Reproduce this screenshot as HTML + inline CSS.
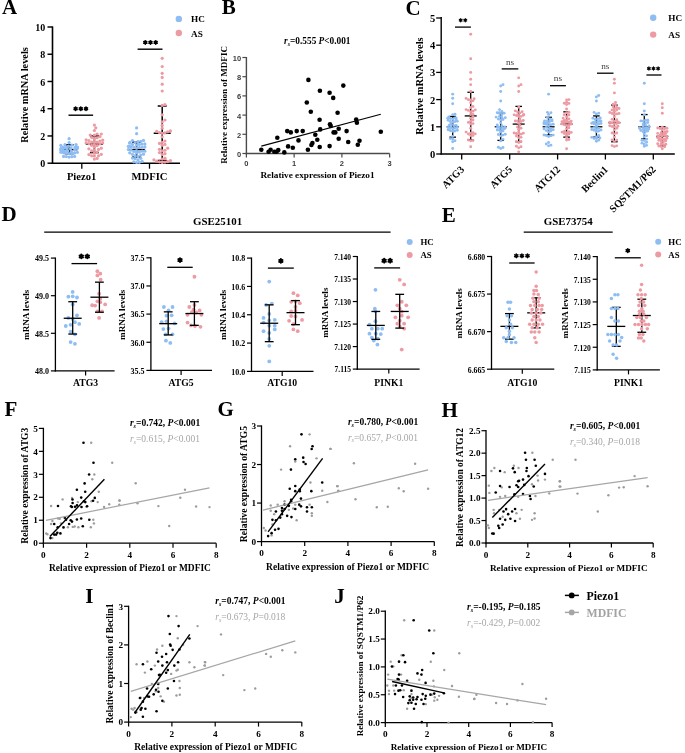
<!DOCTYPE html><html><head><meta charset="utf-8"><style>html,body{margin:0;padding:0;background:#fff;overflow:hidden}svg text{filter:grayscale(1)}</style></head><body><svg width="685" height="753" viewBox="0 0 685 753" style="font-family:'Liberation Serif',serif;display:block">
<rect width="685" height="753" fill="#fff"/>
<text x="2.00" y="14.40" font-size="21" text-anchor="start" font-weight="bold" fill="#000">A</text>
<line x1="52.50" y1="26.40" x2="52.50" y2="163.90" stroke="#000" stroke-width="1.6" stroke-linecap="butt"/>
<line x1="51.80" y1="163.20" x2="180.00" y2="163.20" stroke="#000" stroke-width="1.6" stroke-linecap="butt"/>
<line x1="47.50" y1="163.20" x2="52.50" y2="163.20" stroke="#000" stroke-width="1.45" stroke-linecap="butt"/>
<text x="45.30" y="167.40" font-size="10" text-anchor="end" font-weight="bold" fill="#000">0</text>
<line x1="47.50" y1="135.96" x2="52.50" y2="135.96" stroke="#000" stroke-width="1.45" stroke-linecap="butt"/>
<text x="45.30" y="140.16" font-size="10" text-anchor="end" font-weight="bold" fill="#000">2</text>
<line x1="47.50" y1="108.72" x2="52.50" y2="108.72" stroke="#000" stroke-width="1.45" stroke-linecap="butt"/>
<text x="45.30" y="112.92" font-size="10" text-anchor="end" font-weight="bold" fill="#000">4</text>
<line x1="47.50" y1="81.48" x2="52.50" y2="81.48" stroke="#000" stroke-width="1.45" stroke-linecap="butt"/>
<text x="45.30" y="85.68" font-size="10" text-anchor="end" font-weight="bold" fill="#000">6</text>
<line x1="47.50" y1="54.24" x2="52.50" y2="54.24" stroke="#000" stroke-width="1.45" stroke-linecap="butt"/>
<text x="45.30" y="58.44" font-size="10" text-anchor="end" font-weight="bold" fill="#000">8</text>
<line x1="47.50" y1="27.00" x2="52.50" y2="27.00" stroke="#000" stroke-width="1.45" stroke-linecap="butt"/>
<text x="45.30" y="31.20" font-size="10" text-anchor="end" font-weight="bold" fill="#000">10</text>
<line x1="81.80" y1="163.20" x2="81.80" y2="168.70" stroke="#000" stroke-width="1.3" stroke-linecap="butt"/>
<line x1="149.50" y1="163.20" x2="149.50" y2="168.70" stroke="#000" stroke-width="1.3" stroke-linecap="butt"/>
<text x="81.60" y="179.90" font-size="10.6" text-anchor="middle" font-weight="bold" fill="#000">Piezo1</text>
<text x="149.50" y="179.90" font-size="10.6" text-anchor="middle" font-weight="bold" fill="#000">MDFIC</text>
<text x="28.30" y="95.00" font-size="10.3" text-anchor="middle" font-weight="bold" fill="#000" transform="rotate(-90 28.3 95)">Relative mRNA levels</text>
<circle cx="178.80" cy="18.90" r="3.2" fill="#8dbdf3"/>
<circle cx="178.80" cy="33.00" r="3.2" fill="#ee9aa2"/>
<text x="191.00" y="22.40" font-size="9.2" text-anchor="start" font-weight="bold" fill="#000">HC</text>
<text x="191.00" y="36.50" font-size="9.2" text-anchor="start" font-weight="bold" fill="#000">AS</text>
<line x1="60.60" y1="149.58" x2="77.60" y2="149.58" stroke="#000" stroke-width="1.5" stroke-linecap="butt"/>
<line x1="69.10" y1="153.67" x2="69.10" y2="144.81" stroke="#000" stroke-width="1.5" stroke-linecap="butt"/>
<line x1="64.60" y1="153.67" x2="73.60" y2="153.67" stroke="#000" stroke-width="1.5" stroke-linecap="butt"/>
<line x1="64.60" y1="144.81" x2="73.60" y2="144.81" stroke="#000" stroke-width="1.5" stroke-linecap="butt"/>
<line x1="85.90" y1="144.13" x2="102.90" y2="144.13" stroke="#000" stroke-width="1.5" stroke-linecap="butt"/>
<line x1="94.40" y1="152.58" x2="94.40" y2="135.96" stroke="#000" stroke-width="1.5" stroke-linecap="butt"/>
<line x1="89.90" y1="152.58" x2="98.90" y2="152.58" stroke="#000" stroke-width="1.5" stroke-linecap="butt"/>
<line x1="89.90" y1="135.96" x2="98.90" y2="135.96" stroke="#000" stroke-width="1.5" stroke-linecap="butt"/>
<line x1="128.10" y1="149.58" x2="145.10" y2="149.58" stroke="#000" stroke-width="1.5" stroke-linecap="butt"/>
<line x1="136.60" y1="157.07" x2="136.60" y2="142.09" stroke="#000" stroke-width="1.5" stroke-linecap="butt"/>
<line x1="132.10" y1="157.07" x2="141.10" y2="157.07" stroke="#000" stroke-width="1.5" stroke-linecap="butt"/>
<line x1="132.10" y1="142.09" x2="141.10" y2="142.09" stroke="#000" stroke-width="1.5" stroke-linecap="butt"/>
<line x1="153.70" y1="133.24" x2="170.70" y2="133.24" stroke="#000" stroke-width="1.5" stroke-linecap="butt"/>
<line x1="162.20" y1="160.48" x2="162.20" y2="106.00" stroke="#000" stroke-width="1.5" stroke-linecap="butt"/>
<line x1="157.70" y1="160.48" x2="166.70" y2="160.48" stroke="#000" stroke-width="1.5" stroke-linecap="butt"/>
<line x1="157.70" y1="106.00" x2="166.70" y2="106.00" stroke="#000" stroke-width="1.5" stroke-linecap="butt"/>
<circle cx="69.10" cy="157.07" r="1.6" fill="#8dbdf3"/>
<circle cx="71.86" cy="156.71" r="1.6" fill="#8dbdf3"/>
<circle cx="66.34" cy="156.49" r="1.6" fill="#8dbdf3"/>
<circle cx="74.62" cy="156.39" r="1.6" fill="#8dbdf3"/>
<circle cx="63.58" cy="156.39" r="1.6" fill="#8dbdf3"/>
<circle cx="69.10" cy="153.49" r="1.6" fill="#8dbdf3"/>
<circle cx="71.86" cy="153.38" r="1.6" fill="#8dbdf3"/>
<circle cx="66.34" cy="153.21" r="1.6" fill="#8dbdf3"/>
<circle cx="74.62" cy="152.88" r="1.6" fill="#8dbdf3"/>
<circle cx="63.58" cy="152.60" r="1.6" fill="#8dbdf3"/>
<circle cx="77.38" cy="152.28" r="1.6" fill="#8dbdf3"/>
<circle cx="60.82" cy="152.20" r="1.6" fill="#8dbdf3"/>
<circle cx="62.36" cy="152.11" r="1.6" fill="#8dbdf3"/>
<circle cx="71.38" cy="151.71" r="1.6" fill="#8dbdf3"/>
<circle cx="61.66" cy="151.49" r="1.6" fill="#8dbdf3"/>
<circle cx="61.74" cy="151.41" r="1.6" fill="#8dbdf3"/>
<circle cx="64.15" cy="150.99" r="1.6" fill="#8dbdf3"/>
<circle cx="63.36" cy="150.87" r="1.6" fill="#8dbdf3"/>
<circle cx="67.72" cy="150.63" r="1.6" fill="#8dbdf3"/>
<circle cx="66.38" cy="150.50" r="1.6" fill="#8dbdf3"/>
<circle cx="61.49" cy="150.45" r="1.6" fill="#8dbdf3"/>
<circle cx="74.62" cy="150.01" r="1.6" fill="#8dbdf3"/>
<circle cx="60.60" cy="149.77" r="1.6" fill="#8dbdf3"/>
<circle cx="70.48" cy="148.82" r="1.6" fill="#8dbdf3"/>
<circle cx="77.38" cy="148.58" r="1.6" fill="#8dbdf3"/>
<circle cx="63.17" cy="148.56" r="1.6" fill="#8dbdf3"/>
<circle cx="62.32" cy="148.56" r="1.6" fill="#8dbdf3"/>
<circle cx="66.78" cy="148.33" r="1.6" fill="#8dbdf3"/>
<circle cx="61.03" cy="148.32" r="1.6" fill="#8dbdf3"/>
<circle cx="75.46" cy="147.97" r="1.6" fill="#8dbdf3"/>
<circle cx="71.04" cy="147.97" r="1.6" fill="#8dbdf3"/>
<circle cx="63.13" cy="147.85" r="1.6" fill="#8dbdf3"/>
<circle cx="64.89" cy="147.54" r="1.6" fill="#8dbdf3"/>
<circle cx="66.51" cy="147.51" r="1.6" fill="#8dbdf3"/>
<circle cx="66.79" cy="147.49" r="1.6" fill="#8dbdf3"/>
<circle cx="62.69" cy="147.45" r="1.6" fill="#8dbdf3"/>
<circle cx="75.03" cy="147.31" r="1.6" fill="#8dbdf3"/>
<circle cx="77.48" cy="147.00" r="1.6" fill="#8dbdf3"/>
<circle cx="68.52" cy="146.09" r="1.6" fill="#8dbdf3"/>
<circle cx="60.82" cy="145.34" r="1.6" fill="#8dbdf3"/>
<circle cx="71.86" cy="145.04" r="1.6" fill="#8dbdf3"/>
<circle cx="64.96" cy="144.69" r="1.6" fill="#8dbdf3"/>
<circle cx="76.00" cy="144.59" r="1.6" fill="#8dbdf3"/>
<circle cx="69.10" cy="142.56" r="1.6" fill="#8dbdf3"/>
<circle cx="69.10" cy="138.68" r="1.6" fill="#8dbdf3"/>
<circle cx="94.40" cy="159.05" r="1.6" fill="#ee9aa2"/>
<circle cx="97.16" cy="158.43" r="1.6" fill="#ee9aa2"/>
<circle cx="94.40" cy="155.97" r="1.6" fill="#ee9aa2"/>
<circle cx="91.64" cy="155.78" r="1.6" fill="#ee9aa2"/>
<circle cx="98.54" cy="155.73" r="1.6" fill="#ee9aa2"/>
<circle cx="88.88" cy="154.55" r="1.6" fill="#ee9aa2"/>
<circle cx="101.30" cy="154.29" r="1.6" fill="#ee9aa2"/>
<circle cx="94.40" cy="153.20" r="1.6" fill="#ee9aa2"/>
<circle cx="97.16" cy="152.06" r="1.6" fill="#ee9aa2"/>
<circle cx="91.64" cy="150.94" r="1.6" fill="#ee9aa2"/>
<circle cx="94.40" cy="150.33" r="1.6" fill="#ee9aa2"/>
<circle cx="98.54" cy="149.40" r="1.6" fill="#ee9aa2"/>
<circle cx="88.88" cy="148.79" r="1.6" fill="#ee9aa2"/>
<circle cx="101.30" cy="148.20" r="1.6" fill="#ee9aa2"/>
<circle cx="94.40" cy="147.22" r="1.6" fill="#ee9aa2"/>
<circle cx="97.16" cy="145.61" r="1.6" fill="#ee9aa2"/>
<circle cx="91.64" cy="145.28" r="1.6" fill="#ee9aa2"/>
<circle cx="94.40" cy="144.45" r="1.6" fill="#ee9aa2"/>
<circle cx="99.92" cy="143.92" r="1.6" fill="#ee9aa2"/>
<circle cx="88.88" cy="143.64" r="1.6" fill="#ee9aa2"/>
<circle cx="102.68" cy="143.02" r="1.6" fill="#ee9aa2"/>
<circle cx="86.12" cy="142.97" r="1.6" fill="#ee9aa2"/>
<circle cx="97.16" cy="142.14" r="1.6" fill="#ee9aa2"/>
<circle cx="91.64" cy="142.10" r="1.6" fill="#ee9aa2"/>
<circle cx="94.40" cy="141.62" r="1.6" fill="#ee9aa2"/>
<circle cx="99.92" cy="141.09" r="1.6" fill="#ee9aa2"/>
<circle cx="88.88" cy="140.48" r="1.6" fill="#ee9aa2"/>
<circle cx="102.68" cy="140.20" r="1.6" fill="#ee9aa2"/>
<circle cx="86.12" cy="139.80" r="1.6" fill="#ee9aa2"/>
<circle cx="94.40" cy="138.61" r="1.6" fill="#ee9aa2"/>
<circle cx="97.16" cy="137.73" r="1.6" fill="#ee9aa2"/>
<circle cx="91.64" cy="137.49" r="1.6" fill="#ee9aa2"/>
<circle cx="99.92" cy="136.56" r="1.6" fill="#ee9aa2"/>
<circle cx="94.40" cy="135.16" r="1.6" fill="#ee9aa2"/>
<circle cx="90.26" cy="135.03" r="1.6" fill="#ee9aa2"/>
<circle cx="97.16" cy="134.02" r="1.6" fill="#ee9aa2"/>
<circle cx="101.30" cy="134.00" r="1.6" fill="#ee9aa2"/>
<circle cx="94.40" cy="130.51" r="1.6" fill="#ee9aa2"/>
<circle cx="95.78" cy="127.79" r="1.6" fill="#ee9aa2"/>
<circle cx="94.40" cy="125.06" r="1.6" fill="#ee9aa2"/>
<circle cx="136.60" cy="162.52" r="1.6" fill="#8dbdf3"/>
<circle cx="139.36" cy="162.36" r="1.6" fill="#8dbdf3"/>
<circle cx="133.84" cy="161.84" r="1.6" fill="#8dbdf3"/>
<circle cx="142.12" cy="161.36" r="1.6" fill="#8dbdf3"/>
<circle cx="137.98" cy="159.87" r="1.6" fill="#8dbdf3"/>
<circle cx="135.22" cy="158.72" r="1.6" fill="#8dbdf3"/>
<circle cx="140.74" cy="158.30" r="1.6" fill="#8dbdf3"/>
<circle cx="132.46" cy="158.03" r="1.6" fill="#8dbdf3"/>
<circle cx="137.98" cy="156.56" r="1.6" fill="#8dbdf3"/>
<circle cx="135.22" cy="155.66" r="1.6" fill="#8dbdf3"/>
<circle cx="140.74" cy="155.08" r="1.6" fill="#8dbdf3"/>
<circle cx="132.46" cy="154.32" r="1.6" fill="#8dbdf3"/>
<circle cx="143.50" cy="154.14" r="1.6" fill="#8dbdf3"/>
<circle cx="136.60" cy="152.99" r="1.6" fill="#8dbdf3"/>
<circle cx="129.70" cy="152.80" r="1.6" fill="#8dbdf3"/>
<circle cx="139.36" cy="152.09" r="1.6" fill="#8dbdf3"/>
<circle cx="133.84" cy="151.39" r="1.6" fill="#8dbdf3"/>
<circle cx="142.12" cy="151.18" r="1.6" fill="#8dbdf3"/>
<circle cx="144.88" cy="151.17" r="1.6" fill="#8dbdf3"/>
<circle cx="136.33" cy="151.09" r="1.6" fill="#8dbdf3"/>
<circle cx="131.08" cy="150.10" r="1.6" fill="#8dbdf3"/>
<circle cx="128.32" cy="149.52" r="1.6" fill="#8dbdf3"/>
<circle cx="136.60" cy="148.27" r="1.6" fill="#8dbdf3"/>
<circle cx="139.36" cy="147.60" r="1.6" fill="#8dbdf3"/>
<circle cx="133.84" cy="147.08" r="1.6" fill="#8dbdf3"/>
<circle cx="142.12" cy="147.01" r="1.6" fill="#8dbdf3"/>
<circle cx="131.08" cy="146.90" r="1.6" fill="#8dbdf3"/>
<circle cx="144.88" cy="146.88" r="1.6" fill="#8dbdf3"/>
<circle cx="128.32" cy="146.47" r="1.6" fill="#8dbdf3"/>
<circle cx="129.56" cy="146.28" r="1.6" fill="#8dbdf3"/>
<circle cx="136.60" cy="145.10" r="1.6" fill="#8dbdf3"/>
<circle cx="139.36" cy="144.46" r="1.6" fill="#8dbdf3"/>
<circle cx="132.46" cy="144.41" r="1.6" fill="#8dbdf3"/>
<circle cx="142.12" cy="144.01" r="1.6" fill="#8dbdf3"/>
<circle cx="144.88" cy="143.88" r="1.6" fill="#8dbdf3"/>
<circle cx="129.70" cy="143.24" r="1.6" fill="#8dbdf3"/>
<circle cx="135.22" cy="142.53" r="1.6" fill="#8dbdf3"/>
<circle cx="129.84" cy="142.41" r="1.6" fill="#8dbdf3"/>
<circle cx="137.98" cy="141.65" r="1.6" fill="#8dbdf3"/>
<circle cx="140.74" cy="141.28" r="1.6" fill="#8dbdf3"/>
<circle cx="132.46" cy="140.49" r="1.6" fill="#8dbdf3"/>
<circle cx="143.50" cy="140.39" r="1.6" fill="#8dbdf3"/>
<circle cx="136.60" cy="133.64" r="1.6" fill="#8dbdf3"/>
<circle cx="136.60" cy="127.92" r="1.6" fill="#8dbdf3"/>
<circle cx="162.20" cy="162.52" r="1.6" fill="#ee9aa2"/>
<circle cx="164.96" cy="162.11" r="1.6" fill="#ee9aa2"/>
<circle cx="159.44" cy="161.84" r="1.6" fill="#ee9aa2"/>
<circle cx="167.72" cy="161.57" r="1.6" fill="#ee9aa2"/>
<circle cx="156.68" cy="161.16" r="1.6" fill="#ee9aa2"/>
<circle cx="170.48" cy="160.48" r="1.6" fill="#ee9aa2"/>
<circle cx="153.92" cy="159.79" r="1.6" fill="#ee9aa2"/>
<circle cx="162.20" cy="159.11" r="1.6" fill="#ee9aa2"/>
<circle cx="164.96" cy="158.16" r="1.6" fill="#ee9aa2"/>
<circle cx="162.20" cy="154.48" r="1.6" fill="#ee9aa2"/>
<circle cx="164.96" cy="153.67" r="1.6" fill="#ee9aa2"/>
<circle cx="159.44" cy="152.58" r="1.6" fill="#ee9aa2"/>
<circle cx="162.20" cy="150.94" r="1.6" fill="#ee9aa2"/>
<circle cx="164.96" cy="150.26" r="1.6" fill="#ee9aa2"/>
<circle cx="159.44" cy="149.31" r="1.6" fill="#ee9aa2"/>
<circle cx="167.72" cy="148.22" r="1.6" fill="#ee9aa2"/>
<circle cx="162.20" cy="145.22" r="1.6" fill="#ee9aa2"/>
<circle cx="164.96" cy="144.40" r="1.6" fill="#ee9aa2"/>
<circle cx="159.44" cy="143.45" r="1.6" fill="#ee9aa2"/>
<circle cx="162.20" cy="142.36" r="1.6" fill="#ee9aa2"/>
<circle cx="164.96" cy="141.00" r="1.6" fill="#ee9aa2"/>
<circle cx="162.20" cy="136.78" r="1.6" fill="#ee9aa2"/>
<circle cx="162.20" cy="133.24" r="1.6" fill="#ee9aa2"/>
<circle cx="164.96" cy="132.96" r="1.6" fill="#ee9aa2"/>
<circle cx="159.44" cy="132.55" r="1.6" fill="#ee9aa2"/>
<circle cx="167.72" cy="131.87" r="1.6" fill="#ee9aa2"/>
<circle cx="156.68" cy="131.47" r="1.6" fill="#ee9aa2"/>
<circle cx="170.48" cy="130.92" r="1.6" fill="#ee9aa2"/>
<circle cx="162.20" cy="128.20" r="1.6" fill="#ee9aa2"/>
<circle cx="162.20" cy="125.34" r="1.6" fill="#ee9aa2"/>
<circle cx="162.20" cy="121.93" r="1.6" fill="#ee9aa2"/>
<circle cx="164.96" cy="120.02" r="1.6" fill="#ee9aa2"/>
<circle cx="162.20" cy="114.85" r="1.6" fill="#ee9aa2"/>
<circle cx="162.20" cy="105.45" r="1.6" fill="#ee9aa2"/>
<circle cx="164.96" cy="104.63" r="1.6" fill="#ee9aa2"/>
<circle cx="162.20" cy="91.01" r="1.6" fill="#ee9aa2"/>
<circle cx="162.20" cy="84.20" r="1.6" fill="#ee9aa2"/>
<circle cx="162.20" cy="77.39" r="1.6" fill="#ee9aa2"/>
<circle cx="162.20" cy="73.31" r="1.6" fill="#ee9aa2"/>
<circle cx="162.20" cy="66.50" r="1.6" fill="#ee9aa2"/>
<circle cx="162.20" cy="58.33" r="1.6" fill="#ee9aa2"/>
<line x1="68.50" y1="115.20" x2="93.10" y2="115.20" stroke="#000" stroke-width="1.4" stroke-linecap="butt"/>
<path d="M75.60 107.06L75.60 110.34M74.18 107.88L77.02 109.52M77.02 107.88L74.18 109.52M80.80 107.06L80.80 110.34M79.38 107.88L82.22 109.52M82.22 107.88L79.38 109.52M86.00 107.06L86.00 110.34M84.58 107.88L87.42 109.52M87.42 107.88L84.58 109.52" stroke="#000" stroke-width="1.72" stroke-linecap="round"/>
<line x1="137.60" y1="49.20" x2="162.50" y2="49.20" stroke="#000" stroke-width="1.4" stroke-linecap="butt"/>
<path d="M145.30 40.76L145.30 44.04M143.88 41.58L146.72 43.22M146.72 41.58L143.88 43.22M150.50 40.76L150.50 44.04M149.08 41.58L151.92 43.22M151.92 41.58L149.08 43.22M155.70 40.76L155.70 44.04M154.28 41.58L157.12 43.22M157.12 41.58L154.28 43.22" stroke="#000" stroke-width="1.72" stroke-linecap="round"/>
<text x="221.80" y="14.40" font-size="21" text-anchor="start" font-weight="bold" fill="#000">B</text>
<line x1="246.40" y1="57.00" x2="246.40" y2="154.20" stroke="#4a4a4a" stroke-width="1.4" stroke-linecap="butt"/>
<line x1="245.70" y1="153.50" x2="389.60" y2="153.50" stroke="#4a4a4a" stroke-width="1.4" stroke-linecap="butt"/>
<line x1="242.40" y1="153.50" x2="246.40" y2="153.50" stroke="#4a4a4a" stroke-width="1.2" stroke-linecap="butt"/>
<text x="241.10" y="156.90" font-size="7.5" text-anchor="end" font-weight="bold" fill="#3c3c3c" font-family="Liberation Sans, sans-serif">0</text>
<line x1="242.40" y1="134.30" x2="246.40" y2="134.30" stroke="#4a4a4a" stroke-width="1.2" stroke-linecap="butt"/>
<text x="241.10" y="137.70" font-size="7.5" text-anchor="end" font-weight="bold" fill="#3c3c3c" font-family="Liberation Sans, sans-serif">2</text>
<line x1="242.40" y1="115.10" x2="246.40" y2="115.10" stroke="#4a4a4a" stroke-width="1.2" stroke-linecap="butt"/>
<text x="241.10" y="118.50" font-size="7.5" text-anchor="end" font-weight="bold" fill="#3c3c3c" font-family="Liberation Sans, sans-serif">4</text>
<line x1="242.40" y1="95.90" x2="246.40" y2="95.90" stroke="#4a4a4a" stroke-width="1.2" stroke-linecap="butt"/>
<text x="241.10" y="99.30" font-size="7.5" text-anchor="end" font-weight="bold" fill="#3c3c3c" font-family="Liberation Sans, sans-serif">6</text>
<line x1="242.40" y1="76.70" x2="246.40" y2="76.70" stroke="#4a4a4a" stroke-width="1.2" stroke-linecap="butt"/>
<text x="241.10" y="80.10" font-size="7.5" text-anchor="end" font-weight="bold" fill="#3c3c3c" font-family="Liberation Sans, sans-serif">8</text>
<line x1="242.40" y1="57.50" x2="246.40" y2="57.50" stroke="#4a4a4a" stroke-width="1.2" stroke-linecap="butt"/>
<text x="241.10" y="60.90" font-size="7.5" text-anchor="end" font-weight="bold" fill="#3c3c3c" font-family="Liberation Sans, sans-serif">10</text>
<line x1="246.40" y1="153.50" x2="246.40" y2="157.50" stroke="#4a4a4a" stroke-width="1.2" stroke-linecap="butt"/>
<text x="246.40" y="165.50" font-size="7.5" text-anchor="middle" font-weight="bold" fill="#3c3c3c" font-family="Liberation Sans, sans-serif">0</text>
<line x1="294.15" y1="153.50" x2="294.15" y2="157.50" stroke="#4a4a4a" stroke-width="1.2" stroke-linecap="butt"/>
<text x="294.15" y="165.50" font-size="7.5" text-anchor="middle" font-weight="bold" fill="#3c3c3c" font-family="Liberation Sans, sans-serif">1</text>
<line x1="341.90" y1="153.50" x2="341.90" y2="157.50" stroke="#4a4a4a" stroke-width="1.2" stroke-linecap="butt"/>
<text x="341.90" y="165.50" font-size="7.5" text-anchor="middle" font-weight="bold" fill="#3c3c3c" font-family="Liberation Sans, sans-serif">2</text>
<line x1="389.65" y1="153.50" x2="389.65" y2="157.50" stroke="#4a4a4a" stroke-width="1.2" stroke-linecap="butt"/>
<text x="389.65" y="165.50" font-size="7.5" text-anchor="middle" font-weight="bold" fill="#3c3c3c" font-family="Liberation Sans, sans-serif">3</text>
<text x="317.50" y="178.10" font-size="9.25" text-anchor="middle" font-weight="bold" fill="#000">Relative expression of Piezo1</text>
<text x="227.00" y="104.90" font-size="9.1" text-anchor="middle" font-weight="bold" fill="#000" transform="rotate(-90 227 104.9)">Relative expression of MDFIC</text>
<text x="284.1" y="43.6" font-size="9.3" font-weight="bold"><tspan font-style="italic">r</tspan><tspan font-style="italic" font-size="6" dy="2">s</tspan><tspan dy="-2">=0.555 </tspan><tspan font-style="italic">P</tspan>&lt;0.001</text>
<line x1="261.30" y1="146.10" x2="380.80" y2="114.20" stroke="#000" stroke-width="1.1" stroke-linecap="butt"/>
<circle cx="261.30" cy="149.70" r="2.3" fill="#000"/>
<circle cx="268.60" cy="151.70" r="2.3" fill="#000"/>
<circle cx="270.60" cy="149.70" r="2.3" fill="#000"/>
<circle cx="274.30" cy="151.70" r="2.3" fill="#000"/>
<circle cx="276.50" cy="151.70" r="2.3" fill="#000"/>
<circle cx="278.30" cy="150.10" r="2.3" fill="#000"/>
<circle cx="284.30" cy="152.40" r="2.3" fill="#000"/>
<circle cx="277.30" cy="137.70" r="2.3" fill="#000"/>
<circle cx="287.20" cy="131.10" r="2.3" fill="#000"/>
<circle cx="290.80" cy="132.40" r="2.3" fill="#000"/>
<circle cx="288.10" cy="146.40" r="2.3" fill="#000"/>
<circle cx="292.80" cy="147.70" r="2.3" fill="#000"/>
<circle cx="296.70" cy="131.10" r="2.3" fill="#000"/>
<circle cx="298.50" cy="140.40" r="2.3" fill="#000"/>
<circle cx="302.70" cy="131.10" r="2.3" fill="#000"/>
<circle cx="308.40" cy="79.90" r="2.3" fill="#000"/>
<circle cx="306.80" cy="102.50" r="2.3" fill="#000"/>
<circle cx="310.80" cy="111.80" r="2.3" fill="#000"/>
<circle cx="307.90" cy="149.70" r="2.3" fill="#000"/>
<circle cx="315.30" cy="134.70" r="2.3" fill="#000"/>
<circle cx="317.30" cy="139.70" r="2.3" fill="#000"/>
<circle cx="312.40" cy="143.10" r="2.3" fill="#000"/>
<circle cx="311.40" cy="145.00" r="2.3" fill="#000"/>
<circle cx="319.90" cy="90.80" r="2.3" fill="#000"/>
<circle cx="319.60" cy="119.80" r="2.3" fill="#000"/>
<circle cx="320.20" cy="129.40" r="2.3" fill="#000"/>
<circle cx="319.70" cy="147.00" r="2.3" fill="#000"/>
<circle cx="329.60" cy="92.80" r="2.3" fill="#000"/>
<circle cx="333.20" cy="97.90" r="2.3" fill="#000"/>
<circle cx="343.30" cy="85.60" r="2.3" fill="#000"/>
<circle cx="337.60" cy="112.80" r="2.3" fill="#000"/>
<circle cx="330.00" cy="124.20" r="2.3" fill="#000"/>
<circle cx="330.70" cy="126.00" r="2.3" fill="#000"/>
<circle cx="338.70" cy="128.80" r="2.3" fill="#000"/>
<circle cx="333.60" cy="132.40" r="2.3" fill="#000"/>
<circle cx="335.30" cy="132.40" r="2.3" fill="#000"/>
<circle cx="346.60" cy="131.10" r="2.3" fill="#000"/>
<circle cx="356.20" cy="119.50" r="2.3" fill="#000"/>
<circle cx="356.90" cy="122.70" r="2.3" fill="#000"/>
<circle cx="380.80" cy="131.80" r="2.3" fill="#000"/>
<circle cx="338.70" cy="138.70" r="2.3" fill="#000"/>
<circle cx="348.20" cy="142.00" r="2.3" fill="#000"/>
<circle cx="359.50" cy="140.70" r="2.3" fill="#000"/>
<circle cx="357.80" cy="144.70" r="2.3" fill="#000"/>
<circle cx="329.60" cy="146.10" r="2.3" fill="#000"/>
<text x="405.50" y="15.30" font-size="21" text-anchor="start" font-weight="bold" fill="#000">C</text>
<line x1="441.20" y1="17.00" x2="441.20" y2="154.60" stroke="#000" stroke-width="1.4" stroke-linecap="butt"/>
<line x1="440.60" y1="154.00" x2="674.80" y2="154.00" stroke="#000" stroke-width="1.4" stroke-linecap="butt"/>
<line x1="436.20" y1="154.00" x2="441.20" y2="154.00" stroke="#000" stroke-width="1.3" stroke-linecap="butt"/>
<text x="435.20" y="158.00" font-size="10.5" text-anchor="end" font-weight="bold" fill="#000">0</text>
<line x1="436.20" y1="126.80" x2="441.20" y2="126.80" stroke="#000" stroke-width="1.3" stroke-linecap="butt"/>
<text x="435.20" y="130.80" font-size="10.5" text-anchor="end" font-weight="bold" fill="#000">1</text>
<line x1="436.20" y1="99.60" x2="441.20" y2="99.60" stroke="#000" stroke-width="1.3" stroke-linecap="butt"/>
<text x="435.20" y="103.60" font-size="10.5" text-anchor="end" font-weight="bold" fill="#000">2</text>
<line x1="436.20" y1="72.40" x2="441.20" y2="72.40" stroke="#000" stroke-width="1.3" stroke-linecap="butt"/>
<text x="435.20" y="76.40" font-size="10.5" text-anchor="end" font-weight="bold" fill="#000">3</text>
<line x1="436.20" y1="45.20" x2="441.20" y2="45.20" stroke="#000" stroke-width="1.3" stroke-linecap="butt"/>
<text x="435.20" y="49.20" font-size="10.5" text-anchor="end" font-weight="bold" fill="#000">4</text>
<line x1="436.20" y1="18.00" x2="441.20" y2="18.00" stroke="#000" stroke-width="1.3" stroke-linecap="butt"/>
<text x="435.20" y="22.00" font-size="10.5" text-anchor="end" font-weight="bold" fill="#000">5</text>
<text x="423.00" y="86.00" font-size="10.5" text-anchor="middle" font-weight="bold" fill="#000" transform="rotate(-90 423 86)">Relative mRNA levels</text>
<line x1="461.70" y1="154.00" x2="461.70" y2="159.50" stroke="#000" stroke-width="1.3" stroke-linecap="butt"/>
<text x="464.90" y="170.00" font-size="10.3" text-anchor="end" font-weight="bold" fill="#000" transform="rotate(-45 464.9 170.0)">ATG3</text>
<line x1="509.70" y1="154.00" x2="509.70" y2="159.50" stroke="#000" stroke-width="1.3" stroke-linecap="butt"/>
<text x="512.90" y="170.00" font-size="10.3" text-anchor="end" font-weight="bold" fill="#000" transform="rotate(-45 512.9 170.0)">ATG5</text>
<line x1="557.60" y1="154.00" x2="557.60" y2="159.50" stroke="#000" stroke-width="1.3" stroke-linecap="butt"/>
<text x="560.80" y="170.00" font-size="10.3" text-anchor="end" font-weight="bold" fill="#000" transform="rotate(-45 560.8000000000001 170.0)">ATG12</text>
<line x1="605.40" y1="154.00" x2="605.40" y2="159.50" stroke="#000" stroke-width="1.3" stroke-linecap="butt"/>
<text x="608.60" y="170.00" font-size="10.3" text-anchor="end" font-weight="bold" fill="#000" transform="rotate(-45 608.6 170.0)">Beclin1</text>
<line x1="653.30" y1="154.00" x2="653.30" y2="159.50" stroke="#000" stroke-width="1.3" stroke-linecap="butt"/>
<text x="656.50" y="170.00" font-size="10.3" text-anchor="end" font-weight="bold" fill="#000" transform="rotate(-45 656.5 170.0)">SQSTM1/P62</text>
<line x1="446.70" y1="126.80" x2="458.70" y2="126.80" stroke="#000" stroke-width="1.3" stroke-linecap="butt"/>
<line x1="452.70" y1="137.14" x2="452.70" y2="116.46" stroke="#000" stroke-width="1.3" stroke-linecap="butt"/>
<line x1="449.40" y1="137.14" x2="456.00" y2="137.14" stroke="#000" stroke-width="1.3" stroke-linecap="butt"/>
<line x1="449.40" y1="116.46" x2="456.00" y2="116.46" stroke="#000" stroke-width="1.3" stroke-linecap="butt"/>
<line x1="464.70" y1="115.92" x2="476.70" y2="115.92" stroke="#000" stroke-width="1.3" stroke-linecap="butt"/>
<line x1="470.70" y1="139.86" x2="470.70" y2="92.26" stroke="#000" stroke-width="1.3" stroke-linecap="butt"/>
<line x1="467.40" y1="139.86" x2="474.00" y2="139.86" stroke="#000" stroke-width="1.3" stroke-linecap="butt"/>
<line x1="467.40" y1="92.26" x2="474.00" y2="92.26" stroke="#000" stroke-width="1.3" stroke-linecap="butt"/>
<line x1="494.70" y1="126.80" x2="506.70" y2="126.80" stroke="#000" stroke-width="1.3" stroke-linecap="butt"/>
<line x1="500.70" y1="140.40" x2="500.70" y2="113.20" stroke="#000" stroke-width="1.3" stroke-linecap="butt"/>
<line x1="497.40" y1="140.40" x2="504.00" y2="140.40" stroke="#000" stroke-width="1.3" stroke-linecap="butt"/>
<line x1="497.40" y1="113.20" x2="504.00" y2="113.20" stroke="#000" stroke-width="1.3" stroke-linecap="butt"/>
<line x1="512.70" y1="124.08" x2="524.70" y2="124.08" stroke="#000" stroke-width="1.3" stroke-linecap="butt"/>
<line x1="518.70" y1="141.76" x2="518.70" y2="106.40" stroke="#000" stroke-width="1.3" stroke-linecap="butt"/>
<line x1="515.40" y1="141.76" x2="522.00" y2="141.76" stroke="#000" stroke-width="1.3" stroke-linecap="butt"/>
<line x1="515.40" y1="106.40" x2="522.00" y2="106.40" stroke="#000" stroke-width="1.3" stroke-linecap="butt"/>
<line x1="542.60" y1="126.80" x2="554.60" y2="126.80" stroke="#000" stroke-width="1.3" stroke-linecap="butt"/>
<line x1="548.60" y1="134.96" x2="548.60" y2="117.28" stroke="#000" stroke-width="1.3" stroke-linecap="butt"/>
<line x1="545.30" y1="134.96" x2="551.90" y2="134.96" stroke="#000" stroke-width="1.3" stroke-linecap="butt"/>
<line x1="545.30" y1="117.28" x2="551.90" y2="117.28" stroke="#000" stroke-width="1.3" stroke-linecap="butt"/>
<line x1="560.60" y1="124.08" x2="572.60" y2="124.08" stroke="#000" stroke-width="1.3" stroke-linecap="butt"/>
<line x1="566.60" y1="137.14" x2="566.60" y2="111.84" stroke="#000" stroke-width="1.3" stroke-linecap="butt"/>
<line x1="563.30" y1="137.14" x2="569.90" y2="137.14" stroke="#000" stroke-width="1.3" stroke-linecap="butt"/>
<line x1="563.30" y1="111.84" x2="569.90" y2="111.84" stroke="#000" stroke-width="1.3" stroke-linecap="butt"/>
<line x1="590.40" y1="126.80" x2="602.40" y2="126.80" stroke="#000" stroke-width="1.3" stroke-linecap="butt"/>
<line x1="596.40" y1="137.14" x2="596.40" y2="115.92" stroke="#000" stroke-width="1.3" stroke-linecap="butt"/>
<line x1="593.10" y1="137.14" x2="599.70" y2="137.14" stroke="#000" stroke-width="1.3" stroke-linecap="butt"/>
<line x1="593.10" y1="115.92" x2="599.70" y2="115.92" stroke="#000" stroke-width="1.3" stroke-linecap="butt"/>
<line x1="608.40" y1="122.72" x2="620.40" y2="122.72" stroke="#000" stroke-width="1.3" stroke-linecap="butt"/>
<line x1="614.40" y1="141.76" x2="614.40" y2="105.04" stroke="#000" stroke-width="1.3" stroke-linecap="butt"/>
<line x1="611.10" y1="141.76" x2="617.70" y2="141.76" stroke="#000" stroke-width="1.3" stroke-linecap="butt"/>
<line x1="611.10" y1="105.04" x2="617.70" y2="105.04" stroke="#000" stroke-width="1.3" stroke-linecap="butt"/>
<line x1="638.30" y1="126.80" x2="650.30" y2="126.80" stroke="#000" stroke-width="1.3" stroke-linecap="butt"/>
<line x1="644.30" y1="139.04" x2="644.30" y2="114.56" stroke="#000" stroke-width="1.3" stroke-linecap="butt"/>
<line x1="641.00" y1="139.04" x2="647.60" y2="139.04" stroke="#000" stroke-width="1.3" stroke-linecap="butt"/>
<line x1="641.00" y1="114.56" x2="647.60" y2="114.56" stroke="#000" stroke-width="1.3" stroke-linecap="butt"/>
<line x1="656.30" y1="136.32" x2="668.30" y2="136.32" stroke="#000" stroke-width="1.3" stroke-linecap="butt"/>
<line x1="662.30" y1="145.84" x2="662.30" y2="126.80" stroke="#000" stroke-width="1.3" stroke-linecap="butt"/>
<line x1="659.00" y1="145.84" x2="665.60" y2="145.84" stroke="#000" stroke-width="1.3" stroke-linecap="butt"/>
<line x1="659.00" y1="126.80" x2="665.60" y2="126.80" stroke="#000" stroke-width="1.3" stroke-linecap="butt"/>
<circle cx="452.70" cy="148.56" r="1.45" fill="#8dbdf3"/>
<circle cx="452.70" cy="141.76" r="1.45" fill="#8dbdf3"/>
<circle cx="455.00" cy="140.68" r="1.45" fill="#8dbdf3"/>
<circle cx="452.70" cy="138.98" r="1.45" fill="#8dbdf3"/>
<circle cx="450.40" cy="138.61" r="1.45" fill="#8dbdf3"/>
<circle cx="452.70" cy="136.34" r="1.45" fill="#8dbdf3"/>
<circle cx="452.70" cy="131.32" r="1.45" fill="#8dbdf3"/>
<circle cx="455.00" cy="131.06" r="1.45" fill="#8dbdf3"/>
<circle cx="450.40" cy="130.77" r="1.45" fill="#8dbdf3"/>
<circle cx="457.30" cy="130.32" r="1.45" fill="#8dbdf3"/>
<circle cx="448.10" cy="129.68" r="1.45" fill="#8dbdf3"/>
<circle cx="449.11" cy="129.58" r="1.45" fill="#8dbdf3"/>
<circle cx="452.70" cy="128.64" r="1.45" fill="#8dbdf3"/>
<circle cx="455.00" cy="128.02" r="1.45" fill="#8dbdf3"/>
<circle cx="450.40" cy="127.61" r="1.45" fill="#8dbdf3"/>
<circle cx="457.30" cy="127.52" r="1.45" fill="#8dbdf3"/>
<circle cx="448.10" cy="127.34" r="1.45" fill="#8dbdf3"/>
<circle cx="451.14" cy="127.31" r="1.45" fill="#8dbdf3"/>
<circle cx="453.85" cy="125.65" r="1.45" fill="#8dbdf3"/>
<circle cx="456.15" cy="125.37" r="1.45" fill="#8dbdf3"/>
<circle cx="449.25" cy="125.24" r="1.45" fill="#8dbdf3"/>
<circle cx="451.55" cy="124.50" r="1.45" fill="#8dbdf3"/>
<circle cx="450.86" cy="123.90" r="1.45" fill="#8dbdf3"/>
<circle cx="452.70" cy="121.71" r="1.45" fill="#8dbdf3"/>
<circle cx="455.00" cy="121.65" r="1.45" fill="#8dbdf3"/>
<circle cx="450.40" cy="121.45" r="1.45" fill="#8dbdf3"/>
<circle cx="457.30" cy="121.23" r="1.45" fill="#8dbdf3"/>
<circle cx="448.10" cy="120.30" r="1.45" fill="#8dbdf3"/>
<circle cx="456.10" cy="119.81" r="1.45" fill="#8dbdf3"/>
<circle cx="452.70" cy="119.02" r="1.45" fill="#8dbdf3"/>
<circle cx="450.40" cy="118.57" r="1.45" fill="#8dbdf3"/>
<circle cx="447.72" cy="118.24" r="1.45" fill="#8dbdf3"/>
<circle cx="455.21" cy="117.92" r="1.45" fill="#8dbdf3"/>
<circle cx="456.09" cy="117.89" r="1.45" fill="#8dbdf3"/>
<circle cx="448.90" cy="117.05" r="1.45" fill="#8dbdf3"/>
<circle cx="452.70" cy="114.63" r="1.45" fill="#8dbdf3"/>
<circle cx="455.00" cy="114.29" r="1.45" fill="#8dbdf3"/>
<circle cx="452.70" cy="103.68" r="1.45" fill="#8dbdf3"/>
<circle cx="452.70" cy="98.24" r="1.45" fill="#8dbdf3"/>
<circle cx="452.70" cy="94.16" r="1.45" fill="#8dbdf3"/>
<circle cx="470.70" cy="146.82" r="1.45" fill="#ee9aa2"/>
<circle cx="470.70" cy="140.77" r="1.45" fill="#ee9aa2"/>
<circle cx="473.00" cy="140.53" r="1.45" fill="#ee9aa2"/>
<circle cx="468.40" cy="139.99" r="1.45" fill="#ee9aa2"/>
<circle cx="470.70" cy="135.60" r="1.45" fill="#ee9aa2"/>
<circle cx="473.00" cy="135.51" r="1.45" fill="#ee9aa2"/>
<circle cx="468.40" cy="133.96" r="1.45" fill="#ee9aa2"/>
<circle cx="475.30" cy="133.87" r="1.45" fill="#ee9aa2"/>
<circle cx="470.70" cy="133.10" r="1.45" fill="#ee9aa2"/>
<circle cx="473.00" cy="132.75" r="1.45" fill="#ee9aa2"/>
<circle cx="466.10" cy="132.11" r="1.45" fill="#ee9aa2"/>
<circle cx="470.70" cy="128.20" r="1.45" fill="#ee9aa2"/>
<circle cx="470.70" cy="124.00" r="1.45" fill="#ee9aa2"/>
<circle cx="473.00" cy="123.61" r="1.45" fill="#ee9aa2"/>
<circle cx="468.40" cy="122.42" r="1.45" fill="#ee9aa2"/>
<circle cx="470.70" cy="121.31" r="1.45" fill="#ee9aa2"/>
<circle cx="473.00" cy="119.99" r="1.45" fill="#ee9aa2"/>
<circle cx="470.70" cy="118.20" r="1.45" fill="#ee9aa2"/>
<circle cx="473.00" cy="116.98" r="1.45" fill="#ee9aa2"/>
<circle cx="470.70" cy="114.57" r="1.45" fill="#ee9aa2"/>
<circle cx="473.00" cy="114.42" r="1.45" fill="#ee9aa2"/>
<circle cx="470.70" cy="111.64" r="1.45" fill="#ee9aa2"/>
<circle cx="473.00" cy="111.31" r="1.45" fill="#ee9aa2"/>
<circle cx="468.40" cy="110.41" r="1.45" fill="#ee9aa2"/>
<circle cx="475.30" cy="109.85" r="1.45" fill="#ee9aa2"/>
<circle cx="466.10" cy="109.58" r="1.45" fill="#ee9aa2"/>
<circle cx="470.70" cy="107.56" r="1.45" fill="#ee9aa2"/>
<circle cx="473.00" cy="106.56" r="1.45" fill="#ee9aa2"/>
<circle cx="470.70" cy="102.78" r="1.45" fill="#ee9aa2"/>
<circle cx="473.00" cy="100.87" r="1.45" fill="#ee9aa2"/>
<circle cx="470.70" cy="99.97" r="1.45" fill="#ee9aa2"/>
<circle cx="468.40" cy="99.63" r="1.45" fill="#ee9aa2"/>
<circle cx="474.15" cy="98.78" r="1.45" fill="#ee9aa2"/>
<circle cx="466.10" cy="98.38" r="1.45" fill="#ee9aa2"/>
<circle cx="470.70" cy="91.44" r="1.45" fill="#ee9aa2"/>
<circle cx="470.70" cy="84.64" r="1.45" fill="#ee9aa2"/>
<circle cx="470.70" cy="79.20" r="1.45" fill="#ee9aa2"/>
<circle cx="470.70" cy="72.40" r="1.45" fill="#ee9aa2"/>
<circle cx="470.70" cy="58.80" r="1.45" fill="#ee9aa2"/>
<circle cx="470.70" cy="34.32" r="1.45" fill="#ee9aa2"/>
<circle cx="500.70" cy="148.45" r="1.45" fill="#8dbdf3"/>
<circle cx="503.00" cy="147.55" r="1.45" fill="#8dbdf3"/>
<circle cx="498.40" cy="147.32" r="1.45" fill="#8dbdf3"/>
<circle cx="500.70" cy="140.89" r="1.45" fill="#8dbdf3"/>
<circle cx="503.00" cy="139.36" r="1.45" fill="#8dbdf3"/>
<circle cx="500.70" cy="135.85" r="1.45" fill="#8dbdf3"/>
<circle cx="503.00" cy="135.10" r="1.45" fill="#8dbdf3"/>
<circle cx="498.40" cy="134.48" r="1.45" fill="#8dbdf3"/>
<circle cx="505.30" cy="134.27" r="1.45" fill="#8dbdf3"/>
<circle cx="500.70" cy="132.16" r="1.45" fill="#8dbdf3"/>
<circle cx="503.00" cy="130.88" r="1.45" fill="#8dbdf3"/>
<circle cx="499.55" cy="130.15" r="1.45" fill="#8dbdf3"/>
<circle cx="497.25" cy="130.03" r="1.45" fill="#8dbdf3"/>
<circle cx="501.85" cy="128.79" r="1.45" fill="#8dbdf3"/>
<circle cx="504.15" cy="128.46" r="1.45" fill="#8dbdf3"/>
<circle cx="504.96" cy="128.29" r="1.45" fill="#8dbdf3"/>
<circle cx="502.83" cy="128.26" r="1.45" fill="#8dbdf3"/>
<circle cx="499.55" cy="127.70" r="1.45" fill="#8dbdf3"/>
<circle cx="497.25" cy="127.34" r="1.45" fill="#8dbdf3"/>
<circle cx="504.72" cy="126.97" r="1.45" fill="#8dbdf3"/>
<circle cx="498.60" cy="126.88" r="1.45" fill="#8dbdf3"/>
<circle cx="501.85" cy="125.74" r="1.45" fill="#8dbdf3"/>
<circle cx="497.25" cy="124.88" r="1.45" fill="#8dbdf3"/>
<circle cx="500.70" cy="122.67" r="1.45" fill="#8dbdf3"/>
<circle cx="500.70" cy="119.70" r="1.45" fill="#8dbdf3"/>
<circle cx="503.00" cy="119.55" r="1.45" fill="#8dbdf3"/>
<circle cx="498.40" cy="119.07" r="1.45" fill="#8dbdf3"/>
<circle cx="505.30" cy="117.63" r="1.45" fill="#8dbdf3"/>
<circle cx="501.85" cy="117.41" r="1.45" fill="#8dbdf3"/>
<circle cx="496.10" cy="117.11" r="1.45" fill="#8dbdf3"/>
<circle cx="499.55" cy="116.42" r="1.45" fill="#8dbdf3"/>
<circle cx="501.85" cy="114.45" r="1.45" fill="#8dbdf3"/>
<circle cx="499.55" cy="113.44" r="1.45" fill="#8dbdf3"/>
<circle cx="504.15" cy="113.15" r="1.45" fill="#8dbdf3"/>
<circle cx="497.25" cy="112.79" r="1.45" fill="#8dbdf3"/>
<circle cx="499.42" cy="112.74" r="1.45" fill="#8dbdf3"/>
<circle cx="501.85" cy="111.52" r="1.45" fill="#8dbdf3"/>
<circle cx="499.55" cy="109.65" r="1.45" fill="#8dbdf3"/>
<circle cx="500.70" cy="100.96" r="1.45" fill="#8dbdf3"/>
<circle cx="500.70" cy="91.44" r="1.45" fill="#8dbdf3"/>
<circle cx="500.70" cy="86.00" r="1.45" fill="#8dbdf3"/>
<circle cx="503.00" cy="84.64" r="1.45" fill="#8dbdf3"/>
<circle cx="518.70" cy="151.85" r="1.45" fill="#ee9aa2"/>
<circle cx="518.70" cy="147.83" r="1.45" fill="#ee9aa2"/>
<circle cx="521.00" cy="146.71" r="1.45" fill="#ee9aa2"/>
<circle cx="516.40" cy="146.27" r="1.45" fill="#ee9aa2"/>
<circle cx="518.70" cy="142.57" r="1.45" fill="#ee9aa2"/>
<circle cx="521.00" cy="141.48" r="1.45" fill="#ee9aa2"/>
<circle cx="516.40" cy="141.47" r="1.45" fill="#ee9aa2"/>
<circle cx="518.70" cy="137.71" r="1.45" fill="#ee9aa2"/>
<circle cx="521.00" cy="137.34" r="1.45" fill="#ee9aa2"/>
<circle cx="516.40" cy="135.93" r="1.45" fill="#ee9aa2"/>
<circle cx="518.70" cy="134.17" r="1.45" fill="#ee9aa2"/>
<circle cx="521.00" cy="134.13" r="1.45" fill="#ee9aa2"/>
<circle cx="516.40" cy="133.57" r="1.45" fill="#ee9aa2"/>
<circle cx="523.30" cy="133.13" r="1.45" fill="#ee9aa2"/>
<circle cx="514.10" cy="132.99" r="1.45" fill="#ee9aa2"/>
<circle cx="518.70" cy="131.68" r="1.45" fill="#ee9aa2"/>
<circle cx="518.70" cy="129.19" r="1.45" fill="#ee9aa2"/>
<circle cx="521.00" cy="128.13" r="1.45" fill="#ee9aa2"/>
<circle cx="517.55" cy="127.03" r="1.45" fill="#ee9aa2"/>
<circle cx="519.85" cy="125.34" r="1.45" fill="#ee9aa2"/>
<circle cx="518.70" cy="123.18" r="1.45" fill="#ee9aa2"/>
<circle cx="521.00" cy="121.48" r="1.45" fill="#ee9aa2"/>
<circle cx="517.55" cy="121.00" r="1.45" fill="#ee9aa2"/>
<circle cx="515.25" cy="120.98" r="1.45" fill="#ee9aa2"/>
<circle cx="523.30" cy="120.49" r="1.45" fill="#ee9aa2"/>
<circle cx="519.85" cy="119.30" r="1.45" fill="#ee9aa2"/>
<circle cx="518.70" cy="116.47" r="1.45" fill="#ee9aa2"/>
<circle cx="521.00" cy="116.38" r="1.45" fill="#ee9aa2"/>
<circle cx="516.40" cy="115.58" r="1.45" fill="#ee9aa2"/>
<circle cx="523.30" cy="115.27" r="1.45" fill="#ee9aa2"/>
<circle cx="514.10" cy="114.83" r="1.45" fill="#ee9aa2"/>
<circle cx="517.63" cy="114.66" r="1.45" fill="#ee9aa2"/>
<circle cx="523.69" cy="114.49" r="1.45" fill="#ee9aa2"/>
<circle cx="519.85" cy="112.89" r="1.45" fill="#ee9aa2"/>
<circle cx="517.55" cy="111.83" r="1.45" fill="#ee9aa2"/>
<circle cx="522.15" cy="111.74" r="1.45" fill="#ee9aa2"/>
<circle cx="515.25" cy="110.84" r="1.45" fill="#ee9aa2"/>
<circle cx="518.70" cy="107.30" r="1.45" fill="#ee9aa2"/>
<circle cx="518.70" cy="91.44" r="1.45" fill="#ee9aa2"/>
<circle cx="518.70" cy="86.00" r="1.45" fill="#ee9aa2"/>
<circle cx="521.00" cy="84.64" r="1.45" fill="#ee9aa2"/>
<circle cx="518.70" cy="77.84" r="1.45" fill="#ee9aa2"/>
<circle cx="548.60" cy="145.84" r="1.45" fill="#8dbdf3"/>
<circle cx="550.90" cy="145.17" r="1.45" fill="#8dbdf3"/>
<circle cx="546.30" cy="144.02" r="1.45" fill="#8dbdf3"/>
<circle cx="548.60" cy="142.51" r="1.45" fill="#8dbdf3"/>
<circle cx="548.60" cy="136.45" r="1.45" fill="#8dbdf3"/>
<circle cx="550.90" cy="135.73" r="1.45" fill="#8dbdf3"/>
<circle cx="546.30" cy="135.55" r="1.45" fill="#8dbdf3"/>
<circle cx="553.20" cy="135.12" r="1.45" fill="#8dbdf3"/>
<circle cx="544.00" cy="135.03" r="1.45" fill="#8dbdf3"/>
<circle cx="548.60" cy="131.99" r="1.45" fill="#8dbdf3"/>
<circle cx="550.90" cy="131.09" r="1.45" fill="#8dbdf3"/>
<circle cx="546.30" cy="130.58" r="1.45" fill="#8dbdf3"/>
<circle cx="553.20" cy="129.75" r="1.45" fill="#8dbdf3"/>
<circle cx="548.60" cy="129.14" r="1.45" fill="#8dbdf3"/>
<circle cx="544.00" cy="128.89" r="1.45" fill="#8dbdf3"/>
<circle cx="550.90" cy="128.71" r="1.45" fill="#8dbdf3"/>
<circle cx="549.49" cy="128.44" r="1.45" fill="#8dbdf3"/>
<circle cx="546.30" cy="127.33" r="1.45" fill="#8dbdf3"/>
<circle cx="548.60" cy="125.77" r="1.45" fill="#8dbdf3"/>
<circle cx="550.90" cy="124.67" r="1.45" fill="#8dbdf3"/>
<circle cx="546.30" cy="124.33" r="1.45" fill="#8dbdf3"/>
<circle cx="553.20" cy="124.24" r="1.45" fill="#8dbdf3"/>
<circle cx="544.00" cy="123.90" r="1.45" fill="#8dbdf3"/>
<circle cx="547.21" cy="123.58" r="1.45" fill="#8dbdf3"/>
<circle cx="547.88" cy="123.09" r="1.45" fill="#8dbdf3"/>
<circle cx="546.35" cy="122.96" r="1.45" fill="#8dbdf3"/>
<circle cx="544.08" cy="122.53" r="1.45" fill="#8dbdf3"/>
<circle cx="549.75" cy="121.42" r="1.45" fill="#8dbdf3"/>
<circle cx="552.05" cy="120.88" r="1.45" fill="#8dbdf3"/>
<circle cx="544.62" cy="120.84" r="1.45" fill="#8dbdf3"/>
<circle cx="547.45" cy="120.79" r="1.45" fill="#8dbdf3"/>
<circle cx="551.95" cy="119.73" r="1.45" fill="#8dbdf3"/>
<circle cx="549.75" cy="118.86" r="1.45" fill="#8dbdf3"/>
<circle cx="547.45" cy="117.48" r="1.45" fill="#8dbdf3"/>
<circle cx="548.60" cy="114.42" r="1.45" fill="#8dbdf3"/>
<circle cx="550.90" cy="112.77" r="1.45" fill="#8dbdf3"/>
<circle cx="547.45" cy="112.33" r="1.45" fill="#8dbdf3"/>
<circle cx="548.60" cy="94.16" r="1.45" fill="#8dbdf3"/>
<circle cx="566.60" cy="148.76" r="1.45" fill="#ee9aa2"/>
<circle cx="566.60" cy="140.10" r="1.45" fill="#ee9aa2"/>
<circle cx="568.90" cy="139.45" r="1.45" fill="#ee9aa2"/>
<circle cx="566.60" cy="137.72" r="1.45" fill="#ee9aa2"/>
<circle cx="566.60" cy="135.21" r="1.45" fill="#ee9aa2"/>
<circle cx="568.90" cy="134.04" r="1.45" fill="#ee9aa2"/>
<circle cx="564.30" cy="133.52" r="1.45" fill="#ee9aa2"/>
<circle cx="566.60" cy="132.63" r="1.45" fill="#ee9aa2"/>
<circle cx="571.20" cy="132.39" r="1.45" fill="#ee9aa2"/>
<circle cx="562.00" cy="132.10" r="1.45" fill="#ee9aa2"/>
<circle cx="568.90" cy="131.69" r="1.45" fill="#ee9aa2"/>
<circle cx="564.46" cy="131.23" r="1.45" fill="#ee9aa2"/>
<circle cx="566.60" cy="128.63" r="1.45" fill="#ee9aa2"/>
<circle cx="568.90" cy="127.78" r="1.45" fill="#ee9aa2"/>
<circle cx="566.60" cy="125.50" r="1.45" fill="#ee9aa2"/>
<circle cx="568.90" cy="125.33" r="1.45" fill="#ee9aa2"/>
<circle cx="564.30" cy="124.75" r="1.45" fill="#ee9aa2"/>
<circle cx="571.20" cy="124.09" r="1.45" fill="#ee9aa2"/>
<circle cx="562.00" cy="124.08" r="1.45" fill="#ee9aa2"/>
<circle cx="570.96" cy="123.52" r="1.45" fill="#ee9aa2"/>
<circle cx="566.60" cy="122.29" r="1.45" fill="#ee9aa2"/>
<circle cx="568.90" cy="122.07" r="1.45" fill="#ee9aa2"/>
<circle cx="564.30" cy="121.98" r="1.45" fill="#ee9aa2"/>
<circle cx="562.00" cy="121.69" r="1.45" fill="#ee9aa2"/>
<circle cx="571.20" cy="121.10" r="1.45" fill="#ee9aa2"/>
<circle cx="564.09" cy="120.75" r="1.45" fill="#ee9aa2"/>
<circle cx="564.26" cy="120.37" r="1.45" fill="#ee9aa2"/>
<circle cx="566.60" cy="119.78" r="1.45" fill="#ee9aa2"/>
<circle cx="568.90" cy="118.84" r="1.45" fill="#ee9aa2"/>
<circle cx="563.15" cy="118.11" r="1.45" fill="#ee9aa2"/>
<circle cx="566.60" cy="116.79" r="1.45" fill="#ee9aa2"/>
<circle cx="568.90" cy="115.06" r="1.45" fill="#ee9aa2"/>
<circle cx="564.30" cy="114.82" r="1.45" fill="#ee9aa2"/>
<circle cx="566.60" cy="112.78" r="1.45" fill="#ee9aa2"/>
<circle cx="568.90" cy="112.23" r="1.45" fill="#ee9aa2"/>
<circle cx="566.60" cy="108.94" r="1.45" fill="#ee9aa2"/>
<circle cx="566.60" cy="104.62" r="1.45" fill="#ee9aa2"/>
<circle cx="568.90" cy="103.41" r="1.45" fill="#ee9aa2"/>
<circle cx="564.30" cy="103.28" r="1.45" fill="#ee9aa2"/>
<circle cx="566.60" cy="102.32" r="1.45" fill="#ee9aa2"/>
<circle cx="566.60" cy="99.86" r="1.45" fill="#ee9aa2"/>
<circle cx="568.90" cy="99.60" r="1.45" fill="#ee9aa2"/>
<circle cx="596.40" cy="141.20" r="1.45" fill="#8dbdf3"/>
<circle cx="598.70" cy="140.14" r="1.45" fill="#8dbdf3"/>
<circle cx="596.40" cy="138.48" r="1.45" fill="#8dbdf3"/>
<circle cx="594.10" cy="138.47" r="1.45" fill="#8dbdf3"/>
<circle cx="599.85" cy="138.06" r="1.45" fill="#8dbdf3"/>
<circle cx="591.80" cy="137.35" r="1.45" fill="#8dbdf3"/>
<circle cx="596.51" cy="137.02" r="1.45" fill="#8dbdf3"/>
<circle cx="598.70" cy="135.43" r="1.45" fill="#8dbdf3"/>
<circle cx="596.40" cy="131.79" r="1.45" fill="#8dbdf3"/>
<circle cx="598.70" cy="130.98" r="1.45" fill="#8dbdf3"/>
<circle cx="594.10" cy="130.18" r="1.45" fill="#8dbdf3"/>
<circle cx="601.00" cy="129.96" r="1.45" fill="#8dbdf3"/>
<circle cx="591.80" cy="129.57" r="1.45" fill="#8dbdf3"/>
<circle cx="596.40" cy="129.44" r="1.45" fill="#8dbdf3"/>
<circle cx="598.70" cy="128.36" r="1.45" fill="#8dbdf3"/>
<circle cx="594.10" cy="127.59" r="1.45" fill="#8dbdf3"/>
<circle cx="596.40" cy="126.48" r="1.45" fill="#8dbdf3"/>
<circle cx="596.40" cy="124.15" r="1.45" fill="#8dbdf3"/>
<circle cx="598.70" cy="124.02" r="1.45" fill="#8dbdf3"/>
<circle cx="594.10" cy="123.91" r="1.45" fill="#8dbdf3"/>
<circle cx="601.00" cy="123.43" r="1.45" fill="#8dbdf3"/>
<circle cx="591.80" cy="123.20" r="1.45" fill="#8dbdf3"/>
<circle cx="593.30" cy="122.48" r="1.45" fill="#8dbdf3"/>
<circle cx="595.13" cy="122.48" r="1.45" fill="#8dbdf3"/>
<circle cx="597.55" cy="121.43" r="1.45" fill="#8dbdf3"/>
<circle cx="599.85" cy="121.21" r="1.45" fill="#8dbdf3"/>
<circle cx="600.96" cy="121.12" r="1.45" fill="#8dbdf3"/>
<circle cx="595.25" cy="119.51" r="1.45" fill="#8dbdf3"/>
<circle cx="597.55" cy="118.91" r="1.45" fill="#8dbdf3"/>
<circle cx="599.85" cy="118.41" r="1.45" fill="#8dbdf3"/>
<circle cx="592.95" cy="118.13" r="1.45" fill="#8dbdf3"/>
<circle cx="600.24" cy="117.98" r="1.45" fill="#8dbdf3"/>
<circle cx="596.40" cy="114.03" r="1.45" fill="#8dbdf3"/>
<circle cx="598.70" cy="113.14" r="1.45" fill="#8dbdf3"/>
<circle cx="594.10" cy="112.41" r="1.45" fill="#8dbdf3"/>
<circle cx="596.40" cy="100.96" r="1.45" fill="#8dbdf3"/>
<circle cx="596.40" cy="96.88" r="1.45" fill="#8dbdf3"/>
<circle cx="598.70" cy="95.52" r="1.45" fill="#8dbdf3"/>
<circle cx="614.40" cy="146.61" r="1.45" fill="#ee9aa2"/>
<circle cx="616.70" cy="145.84" r="1.45" fill="#ee9aa2"/>
<circle cx="612.10" cy="145.61" r="1.45" fill="#ee9aa2"/>
<circle cx="614.40" cy="141.77" r="1.45" fill="#ee9aa2"/>
<circle cx="616.70" cy="140.10" r="1.45" fill="#ee9aa2"/>
<circle cx="612.10" cy="139.92" r="1.45" fill="#ee9aa2"/>
<circle cx="614.40" cy="137.12" r="1.45" fill="#ee9aa2"/>
<circle cx="614.40" cy="133.86" r="1.45" fill="#ee9aa2"/>
<circle cx="616.70" cy="132.99" r="1.45" fill="#ee9aa2"/>
<circle cx="612.10" cy="132.98" r="1.45" fill="#ee9aa2"/>
<circle cx="614.40" cy="129.83" r="1.45" fill="#ee9aa2"/>
<circle cx="616.70" cy="128.32" r="1.45" fill="#ee9aa2"/>
<circle cx="614.40" cy="126.69" r="1.45" fill="#ee9aa2"/>
<circle cx="612.10" cy="126.51" r="1.45" fill="#ee9aa2"/>
<circle cx="617.85" cy="126.24" r="1.45" fill="#ee9aa2"/>
<circle cx="609.80" cy="125.74" r="1.45" fill="#ee9aa2"/>
<circle cx="614.40" cy="123.61" r="1.45" fill="#ee9aa2"/>
<circle cx="616.70" cy="123.57" r="1.45" fill="#ee9aa2"/>
<circle cx="612.10" cy="122.64" r="1.45" fill="#ee9aa2"/>
<circle cx="619.00" cy="122.61" r="1.45" fill="#ee9aa2"/>
<circle cx="609.80" cy="122.32" r="1.45" fill="#ee9aa2"/>
<circle cx="617.52" cy="121.82" r="1.45" fill="#ee9aa2"/>
<circle cx="614.40" cy="121.24" r="1.45" fill="#ee9aa2"/>
<circle cx="616.70" cy="119.66" r="1.45" fill="#ee9aa2"/>
<circle cx="612.10" cy="119.36" r="1.45" fill="#ee9aa2"/>
<circle cx="614.40" cy="116.85" r="1.45" fill="#ee9aa2"/>
<circle cx="614.40" cy="114.30" r="1.45" fill="#ee9aa2"/>
<circle cx="616.70" cy="113.91" r="1.45" fill="#ee9aa2"/>
<circle cx="612.10" cy="113.48" r="1.45" fill="#ee9aa2"/>
<circle cx="619.00" cy="113.44" r="1.45" fill="#ee9aa2"/>
<circle cx="609.80" cy="112.43" r="1.45" fill="#ee9aa2"/>
<circle cx="614.40" cy="111.52" r="1.45" fill="#ee9aa2"/>
<circle cx="616.70" cy="109.98" r="1.45" fill="#ee9aa2"/>
<circle cx="612.10" cy="109.94" r="1.45" fill="#ee9aa2"/>
<circle cx="614.40" cy="108.79" r="1.45" fill="#ee9aa2"/>
<circle cx="619.00" cy="108.45" r="1.45" fill="#ee9aa2"/>
<circle cx="616.70" cy="107.46" r="1.45" fill="#ee9aa2"/>
<circle cx="613.25" cy="106.72" r="1.45" fill="#ee9aa2"/>
<circle cx="615.55" cy="104.87" r="1.45" fill="#ee9aa2"/>
<circle cx="613.25" cy="104.28" r="1.45" fill="#ee9aa2"/>
<circle cx="615.55" cy="102.48" r="1.45" fill="#ee9aa2"/>
<circle cx="614.40" cy="92.89" r="1.45" fill="#ee9aa2"/>
<circle cx="614.40" cy="83.28" r="1.45" fill="#ee9aa2"/>
<circle cx="614.40" cy="79.20" r="1.45" fill="#ee9aa2"/>
<circle cx="644.30" cy="146.29" r="1.45" fill="#8dbdf3"/>
<circle cx="646.60" cy="145.34" r="1.45" fill="#8dbdf3"/>
<circle cx="644.30" cy="143.90" r="1.45" fill="#8dbdf3"/>
<circle cx="642.00" cy="143.15" r="1.45" fill="#8dbdf3"/>
<circle cx="646.60" cy="142.30" r="1.45" fill="#8dbdf3"/>
<circle cx="644.30" cy="140.46" r="1.45" fill="#8dbdf3"/>
<circle cx="642.00" cy="140.27" r="1.45" fill="#8dbdf3"/>
<circle cx="646.60" cy="139.37" r="1.45" fill="#8dbdf3"/>
<circle cx="644.30" cy="136.84" r="1.45" fill="#8dbdf3"/>
<circle cx="646.60" cy="135.84" r="1.45" fill="#8dbdf3"/>
<circle cx="644.30" cy="133.93" r="1.45" fill="#8dbdf3"/>
<circle cx="645.45" cy="131.75" r="1.45" fill="#8dbdf3"/>
<circle cx="643.15" cy="131.72" r="1.45" fill="#8dbdf3"/>
<circle cx="647.75" cy="131.02" r="1.45" fill="#8dbdf3"/>
<circle cx="640.85" cy="130.44" r="1.45" fill="#8dbdf3"/>
<circle cx="645.61" cy="130.15" r="1.45" fill="#8dbdf3"/>
<circle cx="643.15" cy="129.16" r="1.45" fill="#8dbdf3"/>
<circle cx="648.43" cy="129.09" r="1.45" fill="#8dbdf3"/>
<circle cx="648.71" cy="128.88" r="1.45" fill="#8dbdf3"/>
<circle cx="644.79" cy="128.57" r="1.45" fill="#8dbdf3"/>
<circle cx="639.70" cy="128.42" r="1.45" fill="#8dbdf3"/>
<circle cx="646.50" cy="128.10" r="1.45" fill="#8dbdf3"/>
<circle cx="639.79" cy="127.80" r="1.45" fill="#8dbdf3"/>
<circle cx="646.62" cy="127.73" r="1.45" fill="#8dbdf3"/>
<circle cx="643.15" cy="126.48" r="1.45" fill="#8dbdf3"/>
<circle cx="648.90" cy="125.88" r="1.45" fill="#8dbdf3"/>
<circle cx="645.45" cy="125.31" r="1.45" fill="#8dbdf3"/>
<circle cx="643.15" cy="124.11" r="1.45" fill="#8dbdf3"/>
<circle cx="645.45" cy="122.91" r="1.45" fill="#8dbdf3"/>
<circle cx="647.75" cy="122.56" r="1.45" fill="#8dbdf3"/>
<circle cx="643.15" cy="121.17" r="1.45" fill="#8dbdf3"/>
<circle cx="640.85" cy="120.92" r="1.45" fill="#8dbdf3"/>
<circle cx="645.45" cy="120.15" r="1.45" fill="#8dbdf3"/>
<circle cx="647.75" cy="120.14" r="1.45" fill="#8dbdf3"/>
<circle cx="644.30" cy="114.86" r="1.45" fill="#8dbdf3"/>
<circle cx="644.30" cy="110.99" r="1.45" fill="#8dbdf3"/>
<circle cx="644.30" cy="103.68" r="1.45" fill="#8dbdf3"/>
<circle cx="644.30" cy="83.28" r="1.45" fill="#8dbdf3"/>
<circle cx="662.30" cy="148.73" r="1.45" fill="#ee9aa2"/>
<circle cx="664.60" cy="146.75" r="1.45" fill="#ee9aa2"/>
<circle cx="661.15" cy="146.48" r="1.45" fill="#ee9aa2"/>
<circle cx="658.85" cy="145.98" r="1.45" fill="#ee9aa2"/>
<circle cx="663.45" cy="144.63" r="1.45" fill="#ee9aa2"/>
<circle cx="665.75" cy="144.27" r="1.45" fill="#ee9aa2"/>
<circle cx="661.15" cy="143.81" r="1.45" fill="#ee9aa2"/>
<circle cx="657.70" cy="143.72" r="1.45" fill="#ee9aa2"/>
<circle cx="661.81" cy="143.58" r="1.45" fill="#ee9aa2"/>
<circle cx="663.45" cy="141.69" r="1.45" fill="#ee9aa2"/>
<circle cx="661.15" cy="141.05" r="1.45" fill="#ee9aa2"/>
<circle cx="665.75" cy="140.72" r="1.45" fill="#ee9aa2"/>
<circle cx="658.85" cy="140.30" r="1.45" fill="#ee9aa2"/>
<circle cx="664.83" cy="139.50" r="1.45" fill="#ee9aa2"/>
<circle cx="662.30" cy="138.95" r="1.45" fill="#ee9aa2"/>
<circle cx="663.74" cy="138.86" r="1.45" fill="#ee9aa2"/>
<circle cx="660.16" cy="138.63" r="1.45" fill="#ee9aa2"/>
<circle cx="666.90" cy="138.21" r="1.45" fill="#ee9aa2"/>
<circle cx="657.70" cy="137.52" r="1.45" fill="#ee9aa2"/>
<circle cx="657.79" cy="137.47" r="1.45" fill="#ee9aa2"/>
<circle cx="666.57" cy="136.82" r="1.45" fill="#ee9aa2"/>
<circle cx="658.57" cy="136.69" r="1.45" fill="#ee9aa2"/>
<circle cx="662.30" cy="135.66" r="1.45" fill="#ee9aa2"/>
<circle cx="662.02" cy="135.65" r="1.45" fill="#ee9aa2"/>
<circle cx="664.60" cy="135.57" r="1.45" fill="#ee9aa2"/>
<circle cx="660.74" cy="135.28" r="1.45" fill="#ee9aa2"/>
<circle cx="660.28" cy="135.05" r="1.45" fill="#ee9aa2"/>
<circle cx="663.45" cy="133.53" r="1.45" fill="#ee9aa2"/>
<circle cx="665.75" cy="133.52" r="1.45" fill="#ee9aa2"/>
<circle cx="657.70" cy="133.41" r="1.45" fill="#ee9aa2"/>
<circle cx="661.15" cy="132.76" r="1.45" fill="#ee9aa2"/>
<circle cx="664.69" cy="131.69" r="1.45" fill="#ee9aa2"/>
<circle cx="667.06" cy="131.43" r="1.45" fill="#ee9aa2"/>
<circle cx="662.30" cy="129.95" r="1.45" fill="#ee9aa2"/>
<circle cx="664.60" cy="128.69" r="1.45" fill="#ee9aa2"/>
<circle cx="660.00" cy="128.57" r="1.45" fill="#ee9aa2"/>
<circle cx="666.90" cy="128.19" r="1.45" fill="#ee9aa2"/>
<circle cx="657.70" cy="128.04" r="1.45" fill="#ee9aa2"/>
<circle cx="662.30" cy="127.24" r="1.45" fill="#ee9aa2"/>
<circle cx="662.30" cy="113.20" r="1.45" fill="#ee9aa2"/>
<circle cx="662.30" cy="107.76" r="1.45" fill="#ee9aa2"/>
<circle cx="662.30" cy="103.68" r="1.45" fill="#ee9aa2"/>
<line x1="455.00" y1="27.10" x2="470.90" y2="27.10" stroke="#000" stroke-width="1.3" stroke-linecap="butt"/>
<path d="M460.70 18.64L460.70 21.76M459.35 19.42L462.05 20.98M462.05 19.42L459.35 20.98M465.30 18.64L465.30 21.76M463.95 19.42L466.65 20.98M466.65 19.42L463.95 20.98" stroke="#000" stroke-width="1.25" stroke-linecap="round"/>
<line x1="501.70" y1="68.90" x2="518.30" y2="68.90" stroke="#000" stroke-width="1.3" stroke-linecap="butt"/>
<text x="510.00" y="64.60" font-size="9.2" text-anchor="middle" font-weight="normal" fill="#444">ns</text>
<line x1="550.00" y1="85.70" x2="565.90" y2="85.70" stroke="#000" stroke-width="1.3" stroke-linecap="butt"/>
<text x="557.95" y="81.40" font-size="9.2" text-anchor="middle" font-weight="normal" fill="#444">ns</text>
<line x1="597.00" y1="73.20" x2="613.50" y2="73.20" stroke="#000" stroke-width="1.3" stroke-linecap="butt"/>
<text x="605.25" y="68.90" font-size="9.2" text-anchor="middle" font-weight="normal" fill="#444">ns</text>
<line x1="646.40" y1="75.00" x2="661.50" y2="75.00" stroke="#000" stroke-width="1.3" stroke-linecap="butt"/>
<path d="M648.90 66.94L648.90 70.06M647.55 67.72L650.25 69.28M650.25 67.72L647.55 69.28M653.50 66.94L653.50 70.06M652.15 67.72L654.85 69.28M654.85 67.72L652.15 69.28M658.10 66.94L658.10 70.06M656.75 67.72L659.45 69.28M659.45 67.72L656.75 69.28" stroke="#000" stroke-width="1.25" stroke-linecap="round"/>
<circle cx="653.20" cy="17.70" r="3.2" fill="#8dbdf3"/>
<circle cx="653.20" cy="34.60" r="3.2" fill="#ee9aa2"/>
<text x="668.30" y="21.40" font-size="9.2" text-anchor="start" font-weight="bold" fill="#000">HC</text>
<text x="668.30" y="38.20" font-size="9.2" text-anchor="start" font-weight="bold" fill="#000">AS</text>
<text x="1.50" y="221.30" font-size="21" text-anchor="start" font-weight="bold" fill="#000">D</text>
<text x="441.80" y="221.60" font-size="21" text-anchor="start" font-weight="bold" fill="#000">E</text>
<line x1="44.20" y1="232.10" x2="390.60" y2="232.10" stroke="#000" stroke-width="1.4" stroke-linecap="butt"/>
<text x="217.60" y="225.10" font-size="10.9" text-anchor="middle" font-weight="bold" fill="#000">GSE25101</text>
<line x1="523.70" y1="232.10" x2="612.70" y2="232.10" stroke="#000" stroke-width="1.4" stroke-linecap="butt"/>
<text x="568.20" y="225.10" font-size="10.9" text-anchor="middle" font-weight="bold" fill="#000">GSE73754</text>
<circle cx="409.70" cy="242.00" r="3.0" fill="#8dbdf3"/>
<circle cx="409.70" cy="254.90" r="3.0" fill="#ee9aa2"/>
<text x="420.50" y="245.30" font-size="8.8" text-anchor="start" font-weight="bold" fill="#000">HC</text>
<text x="420.50" y="258.20" font-size="8.8" text-anchor="start" font-weight="bold" fill="#000">AS</text>
<circle cx="658.20" cy="241.70" r="3.0" fill="#8dbdf3"/>
<circle cx="658.20" cy="254.40" r="3.0" fill="#ee9aa2"/>
<text x="668.30" y="245.00" font-size="8.8" text-anchor="start" font-weight="bold" fill="#000">HC</text>
<text x="668.30" y="257.70" font-size="8.8" text-anchor="start" font-weight="bold" fill="#000">AS</text>
<line x1="55.40" y1="257.50" x2="55.40" y2="371.50" stroke="#000" stroke-width="1.3" stroke-linecap="butt"/>
<line x1="54.80" y1="370.90" x2="114.60" y2="370.90" stroke="#000" stroke-width="1.3" stroke-linecap="butt"/>
<line x1="50.90" y1="370.90" x2="55.40" y2="370.90" stroke="#000" stroke-width="1.2" stroke-linecap="butt"/>
<text x="49.10" y="374.20" font-size="8.0" text-anchor="end" font-weight="bold" fill="#000">48.0</text>
<line x1="50.90" y1="333.30" x2="55.40" y2="333.30" stroke="#000" stroke-width="1.2" stroke-linecap="butt"/>
<text x="49.10" y="336.60" font-size="8.0" text-anchor="end" font-weight="bold" fill="#000">48.5</text>
<line x1="50.90" y1="295.70" x2="55.40" y2="295.70" stroke="#000" stroke-width="1.2" stroke-linecap="butt"/>
<text x="49.10" y="299.00" font-size="8.0" text-anchor="end" font-weight="bold" fill="#000">49.0</text>
<line x1="50.90" y1="258.10" x2="55.40" y2="258.10" stroke="#000" stroke-width="1.2" stroke-linecap="butt"/>
<text x="49.10" y="261.40" font-size="8.0" text-anchor="end" font-weight="bold" fill="#000">49.5</text>
<line x1="85.60" y1="370.90" x2="85.60" y2="375.40" stroke="#000" stroke-width="1.2" stroke-linecap="butt"/>
<text x="85.60" y="385.60" font-size="9.7" text-anchor="middle" font-weight="bold" fill="#000">ATG3</text>
<text x="29.50" y="314.80" font-size="9.1" text-anchor="middle" font-weight="bold" fill="#000" transform="rotate(-90 29.5 314.8)">mRNA levels</text>
<circle cx="72.68" cy="291.97" r="1.9" fill="#8dbdf3"/>
<circle cx="68.36" cy="296.63" r="1.9" fill="#8dbdf3"/>
<circle cx="72.68" cy="296.29" r="1.9" fill="#8dbdf3"/>
<circle cx="76.99" cy="297.50" r="1.9" fill="#8dbdf3"/>
<circle cx="72.68" cy="304.40" r="1.9" fill="#8dbdf3"/>
<circle cx="68.36" cy="317.88" r="1.9" fill="#8dbdf3"/>
<circle cx="72.68" cy="319.08" r="1.9" fill="#8dbdf3"/>
<circle cx="76.99" cy="315.28" r="1.9" fill="#8dbdf3"/>
<circle cx="65.77" cy="325.99" r="1.9" fill="#8dbdf3"/>
<circle cx="70.60" cy="324.78" r="1.9" fill="#8dbdf3"/>
<circle cx="74.92" cy="322.19" r="1.9" fill="#8dbdf3"/>
<circle cx="79.24" cy="323.92" r="1.9" fill="#8dbdf3"/>
<circle cx="70.60" cy="331.69" r="1.9" fill="#8dbdf3"/>
<circle cx="74.92" cy="334.28" r="1.9" fill="#8dbdf3"/>
<circle cx="70.60" cy="342.06" r="1.9" fill="#8dbdf3"/>
<circle cx="74.92" cy="343.78" r="1.9" fill="#8dbdf3"/>
<circle cx="97.37" cy="271.24" r="1.9" fill="#ee9aa2"/>
<circle cx="100.31" cy="273.66" r="1.9" fill="#ee9aa2"/>
<circle cx="97.37" cy="275.39" r="1.9" fill="#ee9aa2"/>
<circle cx="100.66" cy="279.71" r="1.9" fill="#ee9aa2"/>
<circle cx="99.10" cy="293.70" r="1.9" fill="#ee9aa2"/>
<circle cx="100.31" cy="298.70" r="1.9" fill="#ee9aa2"/>
<circle cx="97.37" cy="301.30" r="1.9" fill="#ee9aa2"/>
<circle cx="92.19" cy="305.27" r="1.9" fill="#ee9aa2"/>
<circle cx="95.13" cy="305.61" r="1.9" fill="#ee9aa2"/>
<circle cx="100.31" cy="302.16" r="1.9" fill="#ee9aa2"/>
<circle cx="105.15" cy="304.40" r="1.9" fill="#ee9aa2"/>
<circle cx="97.37" cy="311.31" r="1.9" fill="#ee9aa2"/>
<circle cx="102.04" cy="311.31" r="1.9" fill="#ee9aa2"/>
<circle cx="99.10" cy="317.88" r="1.9" fill="#ee9aa2"/>
<line x1="63.70" y1="318.26" x2="81.70" y2="318.26" stroke="#000" stroke-width="1.3" stroke-linecap="butt"/>
<line x1="72.70" y1="334.05" x2="72.70" y2="301.72" stroke="#000" stroke-width="1.3" stroke-linecap="butt"/>
<line x1="68.30" y1="334.05" x2="77.10" y2="334.05" stroke="#000" stroke-width="1.3" stroke-linecap="butt"/>
<line x1="68.30" y1="301.72" x2="77.10" y2="301.72" stroke="#000" stroke-width="1.3" stroke-linecap="butt"/>
<line x1="90.40" y1="297.20" x2="108.40" y2="297.20" stroke="#000" stroke-width="1.3" stroke-linecap="butt"/>
<line x1="99.40" y1="312.24" x2="99.40" y2="282.16" stroke="#000" stroke-width="1.3" stroke-linecap="butt"/>
<line x1="95.00" y1="312.24" x2="103.80" y2="312.24" stroke="#000" stroke-width="1.3" stroke-linecap="butt"/>
<line x1="95.00" y1="282.16" x2="103.80" y2="282.16" stroke="#000" stroke-width="1.3" stroke-linecap="butt"/>
<line x1="71.50" y1="263.60" x2="97.10" y2="263.60" stroke="#000" stroke-width="1.3" stroke-linecap="butt"/>
<path d="M81.30 254.48L81.30 258.32M79.64 255.44L82.96 257.36M82.96 255.44L79.64 257.36M87.30 254.48L87.30 258.32M85.64 255.44L88.96 257.36M88.96 255.44L85.64 257.36" stroke="#000" stroke-width="2.02" stroke-linecap="round"/>
<line x1="150.90" y1="257.20" x2="150.90" y2="371.00" stroke="#000" stroke-width="1.3" stroke-linecap="butt"/>
<line x1="150.30" y1="370.40" x2="212.00" y2="370.40" stroke="#000" stroke-width="1.3" stroke-linecap="butt"/>
<line x1="146.40" y1="370.40" x2="150.90" y2="370.40" stroke="#000" stroke-width="1.2" stroke-linecap="butt"/>
<text x="144.60" y="373.70" font-size="8.0" text-anchor="end" font-weight="bold" fill="#000">35.5</text>
<line x1="146.40" y1="342.25" x2="150.90" y2="342.25" stroke="#000" stroke-width="1.2" stroke-linecap="butt"/>
<text x="144.60" y="345.55" font-size="8.0" text-anchor="end" font-weight="bold" fill="#000">36.0</text>
<line x1="146.40" y1="314.10" x2="150.90" y2="314.10" stroke="#000" stroke-width="1.2" stroke-linecap="butt"/>
<text x="144.60" y="317.40" font-size="8.0" text-anchor="end" font-weight="bold" fill="#000">36.5</text>
<line x1="146.40" y1="285.95" x2="150.90" y2="285.95" stroke="#000" stroke-width="1.2" stroke-linecap="butt"/>
<text x="144.60" y="289.25" font-size="8.0" text-anchor="end" font-weight="bold" fill="#000">37.0</text>
<line x1="146.40" y1="257.80" x2="150.90" y2="257.80" stroke="#000" stroke-width="1.2" stroke-linecap="butt"/>
<text x="144.60" y="261.10" font-size="8.0" text-anchor="end" font-weight="bold" fill="#000">37.5</text>
<line x1="181.10" y1="370.40" x2="181.10" y2="374.90" stroke="#000" stroke-width="1.2" stroke-linecap="butt"/>
<text x="181.10" y="385.60" font-size="9.7" text-anchor="middle" font-weight="bold" fill="#000">ATG5</text>
<text x="125.00" y="314.80" font-size="9.1" text-anchor="middle" font-weight="bold" fill="#000" transform="rotate(-90 125.0 314.8)">mRNA levels</text>
<circle cx="163.88" cy="306.99" r="1.9" fill="#8dbdf3"/>
<circle cx="172.51" cy="306.99" r="1.9" fill="#8dbdf3"/>
<circle cx="168.54" cy="310.45" r="1.9" fill="#8dbdf3"/>
<circle cx="166.47" cy="315.63" r="1.9" fill="#8dbdf3"/>
<circle cx="171.65" cy="315.28" r="1.9" fill="#8dbdf3"/>
<circle cx="161.63" cy="322.19" r="1.9" fill="#8dbdf3"/>
<circle cx="166.47" cy="321.33" r="1.9" fill="#8dbdf3"/>
<circle cx="174.59" cy="323.40" r="1.9" fill="#8dbdf3"/>
<circle cx="163.36" cy="329.10" r="1.9" fill="#8dbdf3"/>
<circle cx="168.54" cy="328.58" r="1.9" fill="#8dbdf3"/>
<circle cx="165.60" cy="334.28" r="1.9" fill="#8dbdf3"/>
<circle cx="172.51" cy="334.28" r="1.9" fill="#8dbdf3"/>
<circle cx="165.95" cy="340.67" r="1.9" fill="#8dbdf3"/>
<circle cx="170.27" cy="342.92" r="1.9" fill="#8dbdf3"/>
<circle cx="194.45" cy="276.77" r="1.9" fill="#ee9aa2"/>
<circle cx="194.45" cy="304.92" r="1.9" fill="#ee9aa2"/>
<circle cx="189.27" cy="306.99" r="1.9" fill="#ee9aa2"/>
<circle cx="193.58" cy="309.59" r="1.9" fill="#ee9aa2"/>
<circle cx="199.63" cy="310.45" r="1.9" fill="#ee9aa2"/>
<circle cx="191.86" cy="312.18" r="1.9" fill="#ee9aa2"/>
<circle cx="196.17" cy="312.52" r="1.9" fill="#ee9aa2"/>
<circle cx="187.54" cy="314.77" r="1.9" fill="#ee9aa2"/>
<circle cx="201.36" cy="314.77" r="1.9" fill="#ee9aa2"/>
<circle cx="187.54" cy="322.54" r="1.9" fill="#ee9aa2"/>
<circle cx="190.99" cy="325.47" r="1.9" fill="#ee9aa2"/>
<circle cx="194.97" cy="325.99" r="1.9" fill="#ee9aa2"/>
<circle cx="200.49" cy="326.86" r="1.9" fill="#ee9aa2"/>
<line x1="159.20" y1="323.67" x2="177.20" y2="323.67" stroke="#000" stroke-width="1.3" stroke-linecap="butt"/>
<line x1="168.20" y1="334.93" x2="168.20" y2="311.85" stroke="#000" stroke-width="1.3" stroke-linecap="butt"/>
<line x1="163.80" y1="334.93" x2="172.60" y2="334.93" stroke="#000" stroke-width="1.3" stroke-linecap="butt"/>
<line x1="163.80" y1="311.85" x2="172.60" y2="311.85" stroke="#000" stroke-width="1.3" stroke-linecap="butt"/>
<line x1="185.40" y1="313.54" x2="203.40" y2="313.54" stroke="#000" stroke-width="1.3" stroke-linecap="butt"/>
<line x1="194.40" y1="325.36" x2="194.40" y2="301.71" stroke="#000" stroke-width="1.3" stroke-linecap="butt"/>
<line x1="190.00" y1="325.36" x2="198.80" y2="325.36" stroke="#000" stroke-width="1.3" stroke-linecap="butt"/>
<line x1="190.00" y1="301.71" x2="198.80" y2="301.71" stroke="#000" stroke-width="1.3" stroke-linecap="butt"/>
<line x1="167.30" y1="267.30" x2="192.70" y2="267.30" stroke="#000" stroke-width="1.3" stroke-linecap="butt"/>
<path d="M180.00 258.18L180.00 262.02M178.34 259.14L181.66 261.06M181.66 259.14L178.34 261.06" stroke="#000" stroke-width="2.02" stroke-linecap="round"/>
<line x1="251.50" y1="257.50" x2="251.50" y2="372.00" stroke="#000" stroke-width="1.3" stroke-linecap="butt"/>
<line x1="250.90" y1="371.40" x2="313.50" y2="371.40" stroke="#000" stroke-width="1.3" stroke-linecap="butt"/>
<line x1="247.00" y1="371.40" x2="251.50" y2="371.40" stroke="#000" stroke-width="1.2" stroke-linecap="butt"/>
<text x="245.20" y="374.70" font-size="8.0" text-anchor="end" font-weight="bold" fill="#000">10.0</text>
<line x1="247.00" y1="343.08" x2="251.50" y2="343.08" stroke="#000" stroke-width="1.2" stroke-linecap="butt"/>
<text x="245.20" y="346.38" font-size="8.0" text-anchor="end" font-weight="bold" fill="#000">10.2</text>
<line x1="247.00" y1="314.75" x2="251.50" y2="314.75" stroke="#000" stroke-width="1.2" stroke-linecap="butt"/>
<text x="245.20" y="318.05" font-size="8.0" text-anchor="end" font-weight="bold" fill="#000">10.4</text>
<line x1="247.00" y1="286.43" x2="251.50" y2="286.43" stroke="#000" stroke-width="1.2" stroke-linecap="butt"/>
<text x="245.20" y="289.73" font-size="8.0" text-anchor="end" font-weight="bold" fill="#000">10.6</text>
<line x1="247.00" y1="258.10" x2="251.50" y2="258.10" stroke="#000" stroke-width="1.2" stroke-linecap="butt"/>
<text x="245.20" y="261.40" font-size="8.0" text-anchor="end" font-weight="bold" fill="#000">10.8</text>
<line x1="282.20" y1="371.40" x2="282.20" y2="375.90" stroke="#000" stroke-width="1.2" stroke-linecap="butt"/>
<text x="282.20" y="385.60" font-size="9.7" text-anchor="middle" font-weight="bold" fill="#000">ATG10</text>
<text x="226.00" y="314.80" font-size="9.1" text-anchor="middle" font-weight="bold" fill="#000" transform="rotate(-90 226.0 314.8)">mRNA levels</text>
<circle cx="269.24" cy="281.61" r="1.9" fill="#8dbdf3"/>
<circle cx="266.13" cy="304.92" r="1.9" fill="#8dbdf3"/>
<circle cx="271.83" cy="303.54" r="1.9" fill="#8dbdf3"/>
<circle cx="269.24" cy="313.90" r="1.9" fill="#8dbdf3"/>
<circle cx="263.54" cy="317.88" r="1.9" fill="#8dbdf3"/>
<circle cx="274.77" cy="319.95" r="1.9" fill="#8dbdf3"/>
<circle cx="263.54" cy="322.54" r="1.9" fill="#8dbdf3"/>
<circle cx="269.24" cy="320.47" r="1.9" fill="#8dbdf3"/>
<circle cx="269.24" cy="325.65" r="1.9" fill="#8dbdf3"/>
<circle cx="274.77" cy="325.65" r="1.9" fill="#8dbdf3"/>
<circle cx="274.77" cy="329.45" r="1.9" fill="#8dbdf3"/>
<circle cx="263.54" cy="331.17" r="1.9" fill="#8dbdf3"/>
<circle cx="269.24" cy="332.90" r="1.9" fill="#8dbdf3"/>
<circle cx="269.24" cy="338.95" r="1.9" fill="#8dbdf3"/>
<circle cx="269.24" cy="345.85" r="1.9" fill="#8dbdf3"/>
<circle cx="269.24" cy="361.40" r="1.9" fill="#8dbdf3"/>
<circle cx="293.42" cy="293.18" r="1.9" fill="#ee9aa2"/>
<circle cx="297.74" cy="295.42" r="1.9" fill="#ee9aa2"/>
<circle cx="291.17" cy="301.81" r="1.9" fill="#ee9aa2"/>
<circle cx="295.49" cy="301.47" r="1.9" fill="#ee9aa2"/>
<circle cx="299.81" cy="303.20" r="1.9" fill="#ee9aa2"/>
<circle cx="295.49" cy="306.99" r="1.9" fill="#ee9aa2"/>
<circle cx="291.17" cy="311.31" r="1.9" fill="#ee9aa2"/>
<circle cx="295.49" cy="310.79" r="1.9" fill="#ee9aa2"/>
<circle cx="291.17" cy="315.98" r="1.9" fill="#ee9aa2"/>
<circle cx="295.49" cy="316.49" r="1.9" fill="#ee9aa2"/>
<circle cx="289.10" cy="320.81" r="1.9" fill="#ee9aa2"/>
<circle cx="302.06" cy="319.95" r="1.9" fill="#ee9aa2"/>
<circle cx="293.42" cy="324.27" r="1.9" fill="#ee9aa2"/>
<circle cx="293.42" cy="329.45" r="1.9" fill="#ee9aa2"/>
<circle cx="297.74" cy="331.17" r="1.9" fill="#ee9aa2"/>
<line x1="260.20" y1="323.25" x2="278.20" y2="323.25" stroke="#000" stroke-width="1.3" stroke-linecap="butt"/>
<line x1="269.20" y1="341.66" x2="269.20" y2="304.84" stroke="#000" stroke-width="1.3" stroke-linecap="butt"/>
<line x1="264.80" y1="341.66" x2="273.60" y2="341.66" stroke="#000" stroke-width="1.3" stroke-linecap="butt"/>
<line x1="264.80" y1="304.84" x2="273.60" y2="304.84" stroke="#000" stroke-width="1.3" stroke-linecap="butt"/>
<line x1="286.50" y1="312.63" x2="304.50" y2="312.63" stroke="#000" stroke-width="1.3" stroke-linecap="butt"/>
<line x1="295.50" y1="324.66" x2="295.50" y2="300.59" stroke="#000" stroke-width="1.3" stroke-linecap="butt"/>
<line x1="291.10" y1="324.66" x2="299.90" y2="324.66" stroke="#000" stroke-width="1.3" stroke-linecap="butt"/>
<line x1="291.10" y1="300.59" x2="299.90" y2="300.59" stroke="#000" stroke-width="1.3" stroke-linecap="butt"/>
<line x1="267.90" y1="268.10" x2="293.80" y2="268.10" stroke="#000" stroke-width="1.3" stroke-linecap="butt"/>
<path d="M280.85 258.98L280.85 262.82M279.19 259.94L282.51 261.86M282.51 259.94L279.19 261.86" stroke="#000" stroke-width="2.02" stroke-linecap="round"/>
<line x1="357.30" y1="255.90" x2="357.30" y2="369.70" stroke="#000" stroke-width="1.3" stroke-linecap="butt"/>
<line x1="356.70" y1="369.10" x2="419.60" y2="369.10" stroke="#000" stroke-width="1.3" stroke-linecap="butt"/>
<line x1="352.80" y1="369.10" x2="357.30" y2="369.10" stroke="#000" stroke-width="1.2" stroke-linecap="butt"/>
<text x="351.00" y="372.40" font-size="7.5" text-anchor="end" font-weight="bold" fill="#000">7.115</text>
<line x1="352.80" y1="346.58" x2="357.30" y2="346.58" stroke="#000" stroke-width="1.2" stroke-linecap="butt"/>
<text x="351.00" y="349.88" font-size="7.5" text-anchor="end" font-weight="bold" fill="#000">7.120</text>
<line x1="352.80" y1="324.06" x2="357.30" y2="324.06" stroke="#000" stroke-width="1.2" stroke-linecap="butt"/>
<text x="351.00" y="327.36" font-size="7.5" text-anchor="end" font-weight="bold" fill="#000">7.125</text>
<line x1="352.80" y1="301.54" x2="357.30" y2="301.54" stroke="#000" stroke-width="1.2" stroke-linecap="butt"/>
<text x="351.00" y="304.84" font-size="7.5" text-anchor="end" font-weight="bold" fill="#000">7.130</text>
<line x1="352.80" y1="279.02" x2="357.30" y2="279.02" stroke="#000" stroke-width="1.2" stroke-linecap="butt"/>
<text x="351.00" y="282.32" font-size="7.5" text-anchor="end" font-weight="bold" fill="#000">7.135</text>
<line x1="352.80" y1="256.50" x2="357.30" y2="256.50" stroke="#000" stroke-width="1.2" stroke-linecap="butt"/>
<text x="351.00" y="259.80" font-size="7.5" text-anchor="end" font-weight="bold" fill="#000">7.140</text>
<line x1="388.80" y1="369.10" x2="388.80" y2="373.60" stroke="#000" stroke-width="1.2" stroke-linecap="butt"/>
<text x="388.80" y="385.60" font-size="9.7" text-anchor="middle" font-weight="bold" fill="#000">PINK1</text>
<text x="328.00" y="312.70" font-size="9.1" text-anchor="middle" font-weight="bold" fill="#000" transform="rotate(-90 328.0 312.7)">mRNA levels</text>
<circle cx="375.44" cy="289.78" r="1.9" fill="#8dbdf3"/>
<circle cx="374.84" cy="308.72" r="1.9" fill="#8dbdf3"/>
<circle cx="375.44" cy="311.31" r="1.9" fill="#8dbdf3"/>
<circle cx="369.46" cy="324.66" r="1.9" fill="#8dbdf3"/>
<circle cx="375.44" cy="321.27" r="1.9" fill="#8dbdf3"/>
<circle cx="371.85" cy="328.64" r="1.9" fill="#8dbdf3"/>
<circle cx="377.83" cy="328.64" r="1.9" fill="#8dbdf3"/>
<circle cx="382.21" cy="328.64" r="1.9" fill="#8dbdf3"/>
<circle cx="369.46" cy="333.63" r="1.9" fill="#8dbdf3"/>
<circle cx="375.83" cy="333.63" r="1.9" fill="#8dbdf3"/>
<circle cx="380.82" cy="334.03" r="1.9" fill="#8dbdf3"/>
<circle cx="371.85" cy="337.61" r="1.9" fill="#8dbdf3"/>
<circle cx="377.83" cy="338.61" r="1.9" fill="#8dbdf3"/>
<circle cx="373.84" cy="340.60" r="1.9" fill="#8dbdf3"/>
<circle cx="377.43" cy="344.59" r="1.9" fill="#8dbdf3"/>
<circle cx="399.75" cy="279.82" r="1.9" fill="#ee9aa2"/>
<circle cx="404.13" cy="284.40" r="1.9" fill="#ee9aa2"/>
<circle cx="401.74" cy="301.74" r="1.9" fill="#ee9aa2"/>
<circle cx="397.36" cy="305.33" r="1.9" fill="#ee9aa2"/>
<circle cx="406.33" cy="305.33" r="1.9" fill="#ee9aa2"/>
<circle cx="399.75" cy="308.72" r="1.9" fill="#ee9aa2"/>
<circle cx="401.74" cy="311.71" r="1.9" fill="#ee9aa2"/>
<circle cx="395.36" cy="317.29" r="1.9" fill="#ee9aa2"/>
<circle cx="401.74" cy="315.69" r="1.9" fill="#ee9aa2"/>
<circle cx="408.12" cy="317.29" r="1.9" fill="#ee9aa2"/>
<circle cx="399.75" cy="320.67" r="1.9" fill="#ee9aa2"/>
<circle cx="397.36" cy="323.66" r="1.9" fill="#ee9aa2"/>
<circle cx="404.13" cy="323.66" r="1.9" fill="#ee9aa2"/>
<circle cx="399.75" cy="326.65" r="1.9" fill="#ee9aa2"/>
<circle cx="404.13" cy="328.64" r="1.9" fill="#ee9aa2"/>
<circle cx="401.74" cy="349.57" r="1.9" fill="#ee9aa2"/>
<line x1="366.80" y1="325.41" x2="384.80" y2="325.41" stroke="#000" stroke-width="1.3" stroke-linecap="butt"/>
<line x1="375.80" y1="339.37" x2="375.80" y2="311.45" stroke="#000" stroke-width="1.3" stroke-linecap="butt"/>
<line x1="371.40" y1="339.37" x2="380.20" y2="339.37" stroke="#000" stroke-width="1.3" stroke-linecap="butt"/>
<line x1="371.40" y1="311.45" x2="380.20" y2="311.45" stroke="#000" stroke-width="1.3" stroke-linecap="butt"/>
<line x1="390.70" y1="311.45" x2="408.70" y2="311.45" stroke="#000" stroke-width="1.3" stroke-linecap="butt"/>
<line x1="399.70" y1="328.11" x2="399.70" y2="294.33" stroke="#000" stroke-width="1.3" stroke-linecap="butt"/>
<line x1="395.30" y1="328.11" x2="404.10" y2="328.11" stroke="#000" stroke-width="1.3" stroke-linecap="butt"/>
<line x1="395.30" y1="294.33" x2="404.10" y2="294.33" stroke="#000" stroke-width="1.3" stroke-linecap="butt"/>
<line x1="374.20" y1="267.90" x2="400.10" y2="267.90" stroke="#000" stroke-width="1.3" stroke-linecap="butt"/>
<path d="M384.15 258.78L384.15 262.62M382.49 259.74L385.81 261.66M385.81 259.74L382.49 261.66M390.15 258.78L390.15 262.62M388.49 259.74L391.81 261.66M391.81 259.74L388.49 261.66" stroke="#000" stroke-width="2.02" stroke-linecap="round"/>
<line x1="491.50" y1="255.90" x2="491.50" y2="369.80" stroke="#000" stroke-width="1.3" stroke-linecap="butt"/>
<line x1="490.90" y1="369.20" x2="554.30" y2="369.20" stroke="#000" stroke-width="1.3" stroke-linecap="butt"/>
<line x1="487.00" y1="369.20" x2="491.50" y2="369.20" stroke="#000" stroke-width="1.2" stroke-linecap="butt"/>
<text x="485.20" y="372.50" font-size="7.75" text-anchor="end" font-weight="bold" fill="#000">6.665</text>
<line x1="487.00" y1="331.63" x2="491.50" y2="331.63" stroke="#000" stroke-width="1.2" stroke-linecap="butt"/>
<text x="485.20" y="334.93" font-size="7.75" text-anchor="end" font-weight="bold" fill="#000">6.670</text>
<line x1="487.00" y1="294.07" x2="491.50" y2="294.07" stroke="#000" stroke-width="1.2" stroke-linecap="butt"/>
<text x="485.20" y="297.37" font-size="7.75" text-anchor="end" font-weight="bold" fill="#000">6.675</text>
<line x1="487.00" y1="256.50" x2="491.50" y2="256.50" stroke="#000" stroke-width="1.2" stroke-linecap="butt"/>
<text x="485.20" y="259.80" font-size="7.75" text-anchor="end" font-weight="bold" fill="#000">6.680</text>
<line x1="522.30" y1="369.20" x2="522.30" y2="373.70" stroke="#000" stroke-width="1.2" stroke-linecap="butt"/>
<text x="522.30" y="385.60" font-size="9.7" text-anchor="middle" font-weight="bold" fill="#000">ATG10</text>
<text x="462.20" y="313.30" font-size="9.1" text-anchor="middle" font-weight="bold" fill="#000" transform="rotate(-90 462.2 313.3)">mRNA levels</text>
<line x1="500.40" y1="326.37" x2="518.40" y2="326.37" stroke="#000" stroke-width="1.3" stroke-linecap="butt"/>
<line x1="509.40" y1="339.15" x2="509.40" y2="313.60" stroke="#000" stroke-width="1.3" stroke-linecap="butt"/>
<line x1="505.00" y1="339.15" x2="513.80" y2="339.15" stroke="#000" stroke-width="1.3" stroke-linecap="butt"/>
<line x1="505.00" y1="313.60" x2="513.80" y2="313.60" stroke="#000" stroke-width="1.3" stroke-linecap="butt"/>
<line x1="527.20" y1="312.85" x2="545.20" y2="312.85" stroke="#000" stroke-width="1.3" stroke-linecap="butt"/>
<line x1="536.20" y1="327.88" x2="536.20" y2="297.82" stroke="#000" stroke-width="1.3" stroke-linecap="butt"/>
<line x1="531.80" y1="327.88" x2="540.60" y2="327.88" stroke="#000" stroke-width="1.3" stroke-linecap="butt"/>
<line x1="531.80" y1="297.82" x2="540.60" y2="297.82" stroke="#000" stroke-width="1.3" stroke-linecap="butt"/>
<circle cx="508.00" cy="302.17" r="1.75" fill="#8dbdf3"/>
<circle cx="510.59" cy="302.17" r="1.75" fill="#8dbdf3"/>
<circle cx="509.39" cy="309.08" r="1.75" fill="#8dbdf3"/>
<circle cx="507.14" cy="315.64" r="1.75" fill="#8dbdf3"/>
<circle cx="511.46" cy="315.64" r="1.75" fill="#8dbdf3"/>
<circle cx="509.39" cy="319.96" r="1.75" fill="#8dbdf3"/>
<circle cx="510.59" cy="324.28" r="1.75" fill="#8dbdf3"/>
<circle cx="506.28" cy="327.73" r="1.75" fill="#8dbdf3"/>
<circle cx="512.32" cy="327.73" r="1.75" fill="#8dbdf3"/>
<circle cx="509.39" cy="331.19" r="1.75" fill="#8dbdf3"/>
<circle cx="503.68" cy="337.75" r="1.75" fill="#8dbdf3"/>
<circle cx="508.00" cy="337.75" r="1.75" fill="#8dbdf3"/>
<circle cx="514.05" cy="337.75" r="1.75" fill="#8dbdf3"/>
<circle cx="506.28" cy="341.55" r="1.75" fill="#8dbdf3"/>
<circle cx="511.46" cy="342.42" r="1.75" fill="#8dbdf3"/>
<circle cx="515.78" cy="342.42" r="1.75" fill="#8dbdf3"/>
<circle cx="509.39" cy="334.64" r="1.75" fill="#8dbdf3"/>
<circle cx="536.16" cy="272.11" r="1.75" fill="#ee9aa2"/>
<circle cx="536.16" cy="286.28" r="1.75" fill="#ee9aa2"/>
<circle cx="533.91" cy="290.59" r="1.75" fill="#ee9aa2"/>
<circle cx="536.51" cy="290.59" r="1.75" fill="#ee9aa2"/>
<circle cx="533.91" cy="294.05" r="1.75" fill="#ee9aa2"/>
<circle cx="538.23" cy="294.57" r="1.75" fill="#ee9aa2"/>
<circle cx="533.05" cy="298.37" r="1.75" fill="#ee9aa2"/>
<circle cx="539.10" cy="298.37" r="1.75" fill="#ee9aa2"/>
<circle cx="533.91" cy="301.82" r="1.75" fill="#ee9aa2"/>
<circle cx="538.23" cy="301.82" r="1.75" fill="#ee9aa2"/>
<circle cx="530.46" cy="305.62" r="1.75" fill="#ee9aa2"/>
<circle cx="534.78" cy="305.62" r="1.75" fill="#ee9aa2"/>
<circle cx="539.10" cy="305.62" r="1.75" fill="#ee9aa2"/>
<circle cx="542.21" cy="305.62" r="1.75" fill="#ee9aa2"/>
<circle cx="532.19" cy="309.60" r="1.75" fill="#ee9aa2"/>
<circle cx="537.37" cy="309.60" r="1.75" fill="#ee9aa2"/>
<circle cx="541.69" cy="309.60" r="1.75" fill="#ee9aa2"/>
<circle cx="536.16" cy="313.05" r="1.75" fill="#ee9aa2"/>
<circle cx="531.32" cy="313.05" r="1.75" fill="#ee9aa2"/>
<circle cx="540.82" cy="313.05" r="1.75" fill="#ee9aa2"/>
<circle cx="533.91" cy="316.51" r="1.75" fill="#ee9aa2"/>
<circle cx="538.23" cy="316.51" r="1.75" fill="#ee9aa2"/>
<circle cx="532.19" cy="319.96" r="1.75" fill="#ee9aa2"/>
<circle cx="536.16" cy="319.96" r="1.75" fill="#ee9aa2"/>
<circle cx="539.96" cy="319.96" r="1.75" fill="#ee9aa2"/>
<circle cx="529.60" cy="324.28" r="1.75" fill="#ee9aa2"/>
<circle cx="533.91" cy="324.28" r="1.75" fill="#ee9aa2"/>
<circle cx="538.23" cy="324.28" r="1.75" fill="#ee9aa2"/>
<circle cx="542.55" cy="324.28" r="1.75" fill="#ee9aa2"/>
<circle cx="532.19" cy="327.73" r="1.75" fill="#ee9aa2"/>
<circle cx="537.37" cy="327.73" r="1.75" fill="#ee9aa2"/>
<circle cx="534.78" cy="332.05" r="1.75" fill="#ee9aa2"/>
<circle cx="539.10" cy="332.05" r="1.75" fill="#ee9aa2"/>
<circle cx="531.32" cy="332.05" r="1.75" fill="#ee9aa2"/>
<circle cx="534.78" cy="337.75" r="1.75" fill="#ee9aa2"/>
<circle cx="536.16" cy="342.42" r="1.75" fill="#ee9aa2"/>
<line x1="509.20" y1="263.00" x2="534.60" y2="263.00" stroke="#000" stroke-width="1.3" stroke-linecap="butt"/>
<path d="M516.30 254.00L516.30 257.60M514.74 254.90L517.86 256.70M517.86 254.90L514.74 256.70M521.90 254.00L521.90 257.60M520.34 254.90L523.46 256.70M523.46 254.90L520.34 256.70M527.50 254.00L527.50 257.60M525.94 254.90L529.06 256.70M529.06 254.90L525.94 256.70" stroke="#000" stroke-width="1.62" stroke-linecap="round"/>
<line x1="597.20" y1="256.00" x2="597.20" y2="370.50" stroke="#000" stroke-width="1.3" stroke-linecap="butt"/>
<line x1="596.60" y1="369.90" x2="659.90" y2="369.90" stroke="#000" stroke-width="1.3" stroke-linecap="butt"/>
<line x1="592.70" y1="369.90" x2="597.20" y2="369.90" stroke="#000" stroke-width="1.2" stroke-linecap="butt"/>
<text x="590.90" y="373.20" font-size="7.6" text-anchor="end" font-weight="bold" fill="#000">7.115</text>
<line x1="592.70" y1="347.24" x2="597.20" y2="347.24" stroke="#000" stroke-width="1.2" stroke-linecap="butt"/>
<text x="590.90" y="350.54" font-size="7.6" text-anchor="end" font-weight="bold" fill="#000">7.120</text>
<line x1="592.70" y1="324.58" x2="597.20" y2="324.58" stroke="#000" stroke-width="1.2" stroke-linecap="butt"/>
<text x="590.90" y="327.88" font-size="7.6" text-anchor="end" font-weight="bold" fill="#000">7.125</text>
<line x1="592.70" y1="301.92" x2="597.20" y2="301.92" stroke="#000" stroke-width="1.2" stroke-linecap="butt"/>
<text x="590.90" y="305.22" font-size="7.6" text-anchor="end" font-weight="bold" fill="#000">7.130</text>
<line x1="592.70" y1="279.26" x2="597.20" y2="279.26" stroke="#000" stroke-width="1.2" stroke-linecap="butt"/>
<text x="590.90" y="282.56" font-size="7.6" text-anchor="end" font-weight="bold" fill="#000">7.135</text>
<line x1="592.70" y1="256.60" x2="597.20" y2="256.60" stroke="#000" stroke-width="1.2" stroke-linecap="butt"/>
<text x="590.90" y="259.90" font-size="7.6" text-anchor="end" font-weight="bold" fill="#000">7.140</text>
<line x1="628.50" y1="369.90" x2="628.50" y2="374.40" stroke="#000" stroke-width="1.2" stroke-linecap="butt"/>
<text x="628.50" y="385.60" font-size="9.7" text-anchor="middle" font-weight="bold" fill="#000">PINK1</text>
<text x="568.00" y="313.30" font-size="9.1" text-anchor="middle" font-weight="bold" fill="#000" transform="rotate(-90 568.0 313.3)">mRNA levels</text>
<line x1="607.30" y1="326.39" x2="625.30" y2="326.39" stroke="#000" stroke-width="1.3" stroke-linecap="butt"/>
<line x1="616.30" y1="346.33" x2="616.30" y2="307.36" stroke="#000" stroke-width="1.3" stroke-linecap="butt"/>
<line x1="611.90" y1="346.33" x2="620.70" y2="346.33" stroke="#000" stroke-width="1.3" stroke-linecap="butt"/>
<line x1="611.90" y1="307.36" x2="620.70" y2="307.36" stroke="#000" stroke-width="1.3" stroke-linecap="butt"/>
<line x1="632.80" y1="315.52" x2="650.80" y2="315.52" stroke="#000" stroke-width="1.3" stroke-linecap="butt"/>
<line x1="641.80" y1="332.28" x2="641.80" y2="299.20" stroke="#000" stroke-width="1.3" stroke-linecap="butt"/>
<line x1="637.40" y1="332.28" x2="646.20" y2="332.28" stroke="#000" stroke-width="1.3" stroke-linecap="butt"/>
<line x1="637.40" y1="299.20" x2="646.20" y2="299.20" stroke="#000" stroke-width="1.3" stroke-linecap="butt"/>
<circle cx="614.90" cy="294.80" r="1.75" fill="#8dbdf3"/>
<circle cx="617.90" cy="294.80" r="1.75" fill="#8dbdf3"/>
<circle cx="611.40" cy="298.40" r="1.75" fill="#8dbdf3"/>
<circle cx="611.40" cy="308.50" r="1.75" fill="#8dbdf3"/>
<circle cx="614.90" cy="308.50" r="1.75" fill="#8dbdf3"/>
<circle cx="617.90" cy="308.50" r="1.75" fill="#8dbdf3"/>
<circle cx="611.40" cy="317.40" r="1.75" fill="#8dbdf3"/>
<circle cx="614.90" cy="321.00" r="1.75" fill="#8dbdf3"/>
<circle cx="618.40" cy="321.00" r="1.75" fill="#8dbdf3"/>
<circle cx="607.90" cy="334.50" r="1.75" fill="#8dbdf3"/>
<circle cx="611.40" cy="334.50" r="1.75" fill="#8dbdf3"/>
<circle cx="614.90" cy="334.50" r="1.75" fill="#8dbdf3"/>
<circle cx="618.40" cy="334.50" r="1.75" fill="#8dbdf3"/>
<circle cx="621.70" cy="337.60" r="1.75" fill="#8dbdf3"/>
<circle cx="609.60" cy="341.10" r="1.75" fill="#8dbdf3"/>
<circle cx="620.00" cy="341.10" r="1.75" fill="#8dbdf3"/>
<circle cx="613.10" cy="344.90" r="1.75" fill="#8dbdf3"/>
<circle cx="616.60" cy="344.90" r="1.75" fill="#8dbdf3"/>
<circle cx="613.10" cy="354.20" r="1.75" fill="#8dbdf3"/>
<circle cx="616.60" cy="358.30" r="1.75" fill="#8dbdf3"/>
<circle cx="641.60" cy="265.20" r="1.75" fill="#ee9aa2"/>
<circle cx="641.60" cy="284.60" r="1.75" fill="#ee9aa2"/>
<circle cx="640.40" cy="290.00" r="1.75" fill="#ee9aa2"/>
<circle cx="638.00" cy="294.80" r="1.75" fill="#ee9aa2"/>
<circle cx="641.60" cy="294.80" r="1.75" fill="#ee9aa2"/>
<circle cx="645.20" cy="294.80" r="1.75" fill="#ee9aa2"/>
<circle cx="641.20" cy="298.60" r="1.75" fill="#ee9aa2"/>
<circle cx="643.60" cy="301.90" r="1.75" fill="#ee9aa2"/>
<circle cx="640.00" cy="301.90" r="1.75" fill="#ee9aa2"/>
<circle cx="638.80" cy="305.40" r="1.75" fill="#ee9aa2"/>
<circle cx="644.80" cy="305.40" r="1.75" fill="#ee9aa2"/>
<circle cx="641.80" cy="308.80" r="1.75" fill="#ee9aa2"/>
<circle cx="639.40" cy="311.20" r="1.75" fill="#ee9aa2"/>
<circle cx="643.00" cy="311.20" r="1.75" fill="#ee9aa2"/>
<circle cx="642.00" cy="311.30" r="1.75" fill="#ee9aa2"/>
<circle cx="639.40" cy="313.90" r="1.75" fill="#ee9aa2"/>
<circle cx="643.80" cy="313.90" r="1.75" fill="#ee9aa2"/>
<circle cx="636.80" cy="317.40" r="1.75" fill="#ee9aa2"/>
<circle cx="640.30" cy="317.40" r="1.75" fill="#ee9aa2"/>
<circle cx="646.40" cy="317.40" r="1.75" fill="#ee9aa2"/>
<circle cx="641.20" cy="320.90" r="1.75" fill="#ee9aa2"/>
<circle cx="643.80" cy="320.90" r="1.75" fill="#ee9aa2"/>
<circle cx="635.00" cy="324.50" r="1.75" fill="#ee9aa2"/>
<circle cx="638.50" cy="324.50" r="1.75" fill="#ee9aa2"/>
<circle cx="642.00" cy="324.50" r="1.75" fill="#ee9aa2"/>
<circle cx="645.50" cy="324.50" r="1.75" fill="#ee9aa2"/>
<circle cx="648.60" cy="324.50" r="1.75" fill="#ee9aa2"/>
<circle cx="641.60" cy="328.80" r="1.75" fill="#ee9aa2"/>
<circle cx="647.30" cy="328.80" r="1.75" fill="#ee9aa2"/>
<circle cx="639.40" cy="334.50" r="1.75" fill="#ee9aa2"/>
<circle cx="642.90" cy="334.50" r="1.75" fill="#ee9aa2"/>
<circle cx="638.50" cy="337.90" r="1.75" fill="#ee9aa2"/>
<circle cx="641.20" cy="337.90" r="1.75" fill="#ee9aa2"/>
<circle cx="643.80" cy="341.10" r="1.75" fill="#ee9aa2"/>
<line x1="614.80" y1="257.80" x2="640.80" y2="257.80" stroke="#000" stroke-width="1.3" stroke-linecap="butt"/>
<path d="M627.80 248.80L627.80 252.40M626.24 249.70L629.36 251.50M629.36 249.70L626.24 251.50" stroke="#000" stroke-width="1.62" stroke-linecap="round"/>
<line x1="43.40" y1="427.80" x2="43.40" y2="543.80" stroke="#000" stroke-width="1.3" stroke-linecap="butt"/>
<line x1="42.80" y1="543.20" x2="216.20" y2="543.20" stroke="#000" stroke-width="1.3" stroke-linecap="butt"/>
<line x1="38.90" y1="543.20" x2="43.40" y2="543.20" stroke="#000" stroke-width="1.2" stroke-linecap="butt"/>
<text x="37.90" y="546.40" font-size="9.2" text-anchor="end" font-weight="bold" fill="#000">0</text>
<line x1="38.90" y1="520.24" x2="43.40" y2="520.24" stroke="#000" stroke-width="1.2" stroke-linecap="butt"/>
<text x="37.90" y="523.44" font-size="9.2" text-anchor="end" font-weight="bold" fill="#000">1</text>
<line x1="38.90" y1="497.28" x2="43.40" y2="497.28" stroke="#000" stroke-width="1.2" stroke-linecap="butt"/>
<text x="37.90" y="500.48" font-size="9.2" text-anchor="end" font-weight="bold" fill="#000">2</text>
<line x1="38.90" y1="474.32" x2="43.40" y2="474.32" stroke="#000" stroke-width="1.2" stroke-linecap="butt"/>
<text x="37.90" y="477.52" font-size="9.2" text-anchor="end" font-weight="bold" fill="#000">3</text>
<line x1="38.90" y1="451.36" x2="43.40" y2="451.36" stroke="#000" stroke-width="1.2" stroke-linecap="butt"/>
<text x="37.90" y="454.56" font-size="9.2" text-anchor="end" font-weight="bold" fill="#000">4</text>
<line x1="38.90" y1="428.40" x2="43.40" y2="428.40" stroke="#000" stroke-width="1.2" stroke-linecap="butt"/>
<text x="37.90" y="431.60" font-size="9.2" text-anchor="end" font-weight="bold" fill="#000">5</text>
<line x1="43.40" y1="543.20" x2="43.40" y2="547.70" stroke="#000" stroke-width="1.2" stroke-linecap="butt"/>
<text x="43.40" y="557.70" font-size="9.2" text-anchor="middle" font-weight="bold" fill="#000">0</text>
<line x1="86.60" y1="543.20" x2="86.60" y2="547.70" stroke="#000" stroke-width="1.2" stroke-linecap="butt"/>
<text x="86.60" y="557.70" font-size="9.2" text-anchor="middle" font-weight="bold" fill="#000">2</text>
<line x1="129.80" y1="543.20" x2="129.80" y2="547.70" stroke="#000" stroke-width="1.2" stroke-linecap="butt"/>
<text x="129.80" y="557.70" font-size="9.2" text-anchor="middle" font-weight="bold" fill="#000">4</text>
<line x1="173.00" y1="543.20" x2="173.00" y2="547.70" stroke="#000" stroke-width="1.2" stroke-linecap="butt"/>
<text x="173.00" y="557.70" font-size="9.2" text-anchor="middle" font-weight="bold" fill="#000">6</text>
<line x1="216.20" y1="543.20" x2="216.20" y2="547.70" stroke="#000" stroke-width="1.2" stroke-linecap="butt"/>
<text x="216.20" y="557.70" font-size="9.2" text-anchor="middle" font-weight="bold" fill="#000">8</text>
<text x="130.00" y="571.10" font-size="9.45" text-anchor="middle" font-weight="bold" fill="#000">Relative expression of Piezo1 or MDFIC</text>
<text x="27.70" y="485.70" font-size="9.6" text-anchor="middle" font-weight="bold" fill="#000" transform="rotate(-90 27.7 485.7)">Relative expression of ATG3</text>
<circle cx="91.20" cy="442.70" r="1.2" fill="#9c9c9c"/>
<circle cx="94.30" cy="474.50" r="1.2" fill="#9c9c9c"/>
<circle cx="92.30" cy="479.30" r="1.2" fill="#9c9c9c"/>
<circle cx="98.80" cy="491.80" r="1.2" fill="#9c9c9c"/>
<circle cx="62.60" cy="499.40" r="1.2" fill="#9c9c9c"/>
<circle cx="72.00" cy="498.00" r="1.2" fill="#9c9c9c"/>
<circle cx="77.80" cy="502.10" r="1.2" fill="#9c9c9c"/>
<circle cx="91.50" cy="501.30" r="1.2" fill="#9c9c9c"/>
<circle cx="97.70" cy="502.10" r="1.2" fill="#9c9c9c"/>
<circle cx="51.10" cy="506.00" r="1.2" fill="#9c9c9c"/>
<circle cx="86.50" cy="506.70" r="1.2" fill="#9c9c9c"/>
<circle cx="104.10" cy="507.00" r="1.2" fill="#9c9c9c"/>
<circle cx="109.20" cy="504.20" r="1.2" fill="#9c9c9c"/>
<circle cx="119.40" cy="500.50" r="1.2" fill="#9c9c9c"/>
<circle cx="58.00" cy="518.50" r="1.2" fill="#9c9c9c"/>
<circle cx="59.80" cy="518.70" r="1.2" fill="#9c9c9c"/>
<circle cx="52.40" cy="521.00" r="1.2" fill="#9c9c9c"/>
<circle cx="93.30" cy="519.70" r="1.2" fill="#9c9c9c"/>
<circle cx="93.90" cy="523.40" r="1.2" fill="#9c9c9c"/>
<circle cx="51.10" cy="524.00" r="1.2" fill="#9c9c9c"/>
<circle cx="61.00" cy="523.40" r="1.2" fill="#9c9c9c"/>
<circle cx="67.90" cy="527.20" r="1.2" fill="#9c9c9c"/>
<circle cx="72.80" cy="526.90" r="1.2" fill="#9c9c9c"/>
<circle cx="74.70" cy="526.50" r="1.2" fill="#9c9c9c"/>
<circle cx="78.40" cy="527.20" r="1.2" fill="#9c9c9c"/>
<circle cx="90.80" cy="527.20" r="1.2" fill="#9c9c9c"/>
<circle cx="46.20" cy="533.40" r="1.2" fill="#9c9c9c"/>
<circle cx="47.40" cy="534.30" r="1.2" fill="#9c9c9c"/>
<circle cx="52.40" cy="538.10" r="1.2" fill="#9c9c9c"/>
<circle cx="112.20" cy="462.80" r="1.2" fill="#9c9c9c"/>
<circle cx="135.70" cy="483.30" r="1.2" fill="#9c9c9c"/>
<circle cx="185.00" cy="489.80" r="1.2" fill="#9c9c9c"/>
<circle cx="119.70" cy="500.60" r="1.2" fill="#9c9c9c"/>
<circle cx="137.50" cy="503.30" r="1.2" fill="#9c9c9c"/>
<circle cx="180.30" cy="497.80" r="1.2" fill="#9c9c9c"/>
<circle cx="158.40" cy="506.10" r="1.2" fill="#9c9c9c"/>
<circle cx="196.10" cy="506.50" r="1.2" fill="#9c9c9c"/>
<circle cx="209.50" cy="507.10" r="1.2" fill="#9c9c9c"/>
<circle cx="169.20" cy="526.00" r="1.2" fill="#9c9c9c"/>
<circle cx="119.30" cy="504.70" r="1.2" fill="#9c9c9c"/>
<circle cx="83.50" cy="442.70" r="1.3" fill="#000"/>
<circle cx="93.50" cy="462.80" r="1.3" fill="#000"/>
<circle cx="89.10" cy="474.50" r="1.3" fill="#000"/>
<circle cx="84.60" cy="483.40" r="1.3" fill="#000"/>
<circle cx="76.90" cy="489.70" r="1.3" fill="#000"/>
<circle cx="85.20" cy="491.80" r="1.3" fill="#000"/>
<circle cx="81.20" cy="497.60" r="1.3" fill="#000"/>
<circle cx="94.80" cy="497.90" r="1.3" fill="#000"/>
<circle cx="72.50" cy="499.50" r="1.3" fill="#000"/>
<circle cx="93.10" cy="500.80" r="1.3" fill="#000"/>
<circle cx="84.00" cy="501.30" r="1.3" fill="#000"/>
<circle cx="85.30" cy="502.10" r="1.3" fill="#000"/>
<circle cx="72.60" cy="503.00" r="1.3" fill="#000"/>
<circle cx="58.00" cy="506.00" r="1.3" fill="#000"/>
<circle cx="71.00" cy="506.30" r="1.3" fill="#000"/>
<circle cx="71.90" cy="507.00" r="1.3" fill="#000"/>
<circle cx="75.00" cy="506.70" r="1.3" fill="#000"/>
<circle cx="77.00" cy="505.40" r="1.3" fill="#000"/>
<circle cx="81.50" cy="507.00" r="1.3" fill="#000"/>
<circle cx="87.10" cy="506.30" r="1.3" fill="#000"/>
<circle cx="64.80" cy="517.80" r="1.3" fill="#000"/>
<circle cx="66.00" cy="519.70" r="1.3" fill="#000"/>
<circle cx="70.70" cy="520.30" r="1.3" fill="#000"/>
<circle cx="72.00" cy="521.60" r="1.3" fill="#000"/>
<circle cx="76.90" cy="519.50" r="1.3" fill="#000"/>
<circle cx="81.20" cy="518.50" r="1.3" fill="#000"/>
<circle cx="89.30" cy="519.70" r="1.3" fill="#000"/>
<circle cx="54.20" cy="524.00" r="1.3" fill="#000"/>
<circle cx="69.10" cy="524.00" r="1.3" fill="#000"/>
<circle cx="63.50" cy="527.40" r="1.3" fill="#000"/>
<circle cx="82.80" cy="526.20" r="1.3" fill="#000"/>
<circle cx="57.70" cy="527.20" r="1.3" fill="#000"/>
<circle cx="57.30" cy="532.70" r="1.3" fill="#000"/>
<circle cx="60.40" cy="533.40" r="1.3" fill="#000"/>
<circle cx="56.10" cy="534.60" r="1.3" fill="#000"/>
<circle cx="50.50" cy="538.10" r="1.3" fill="#000"/>
<circle cx="54.20" cy="534.60" r="1.3" fill="#000"/>
<line x1="45.90" y1="520.30" x2="209.50" y2="487.90" stroke="#a6a6a6" stroke-width="1.2" stroke-linecap="butt"/>
<line x1="49.90" y1="536.50" x2="104.40" y2="479.30" stroke="#000" stroke-width="1.4" stroke-linecap="butt"/>
<text x="129.9" y="426.4" font-size="9.5" font-weight="bold"><tspan font-style="italic">r</tspan><tspan font-style="italic" font-size="6.2" dy="1.8">s</tspan><tspan dy="-1.8">=0.742, </tspan><tspan font-style="italic">P</tspan>&lt;0.001</text>
<text x="129.9" y="442.2" font-size="9.5" fill="#a6a6a6"><tspan font-style="italic">r</tspan><tspan font-style="italic" font-size="6.2" dy="1.8">s</tspan><tspan dy="-1.8">=0.615, </tspan><tspan font-style="italic">P</tspan>&lt;0.001</text>
<text x="4.50" y="416.20" font-size="21" text-anchor="start" font-weight="bold" fill="#000">F</text>
<line x1="261.50" y1="425.40" x2="261.50" y2="542.20" stroke="#000" stroke-width="1.3" stroke-linecap="butt"/>
<line x1="260.90" y1="541.60" x2="434.30" y2="541.60" stroke="#000" stroke-width="1.3" stroke-linecap="butt"/>
<line x1="257.00" y1="541.60" x2="261.50" y2="541.60" stroke="#000" stroke-width="1.2" stroke-linecap="butt"/>
<text x="256.00" y="544.80" font-size="9.2" text-anchor="end" font-weight="bold" fill="#000">0</text>
<line x1="257.00" y1="503.07" x2="261.50" y2="503.07" stroke="#000" stroke-width="1.2" stroke-linecap="butt"/>
<text x="256.00" y="506.27" font-size="9.2" text-anchor="end" font-weight="bold" fill="#000">1</text>
<line x1="257.00" y1="464.53" x2="261.50" y2="464.53" stroke="#000" stroke-width="1.2" stroke-linecap="butt"/>
<text x="256.00" y="467.73" font-size="9.2" text-anchor="end" font-weight="bold" fill="#000">2</text>
<line x1="257.00" y1="426.00" x2="261.50" y2="426.00" stroke="#000" stroke-width="1.2" stroke-linecap="butt"/>
<text x="256.00" y="429.20" font-size="9.2" text-anchor="end" font-weight="bold" fill="#000">3</text>
<line x1="261.50" y1="541.60" x2="261.50" y2="546.10" stroke="#000" stroke-width="1.2" stroke-linecap="butt"/>
<text x="261.50" y="556.10" font-size="9.2" text-anchor="middle" font-weight="bold" fill="#000">0</text>
<line x1="304.70" y1="541.60" x2="304.70" y2="546.10" stroke="#000" stroke-width="1.2" stroke-linecap="butt"/>
<text x="304.70" y="556.10" font-size="9.2" text-anchor="middle" font-weight="bold" fill="#000">2</text>
<line x1="347.90" y1="541.60" x2="347.90" y2="546.10" stroke="#000" stroke-width="1.2" stroke-linecap="butt"/>
<text x="347.90" y="556.10" font-size="9.2" text-anchor="middle" font-weight="bold" fill="#000">4</text>
<line x1="391.10" y1="541.60" x2="391.10" y2="546.10" stroke="#000" stroke-width="1.2" stroke-linecap="butt"/>
<text x="391.10" y="556.10" font-size="9.2" text-anchor="middle" font-weight="bold" fill="#000">6</text>
<line x1="434.30" y1="541.60" x2="434.30" y2="546.10" stroke="#000" stroke-width="1.2" stroke-linecap="butt"/>
<text x="434.30" y="556.10" font-size="9.2" text-anchor="middle" font-weight="bold" fill="#000">8</text>
<text x="347.60" y="569.80" font-size="9.5" text-anchor="middle" font-weight="bold" fill="#000">Relative expression of Piezo1 or MDFIC</text>
<text x="246.60" y="484.10" font-size="9.6" text-anchor="middle" font-weight="bold" fill="#000" transform="rotate(-90 246.6 484.1)">Relative expression of ATG5</text>
<circle cx="290.08" cy="446.26" r="1.2" fill="#9c9c9c"/>
<circle cx="309.60" cy="434.34" r="1.2" fill="#9c9c9c"/>
<circle cx="330.32" cy="448.85" r="1.2" fill="#9c9c9c"/>
<circle cx="281.09" cy="469.58" r="1.2" fill="#9c9c9c"/>
<circle cx="316.51" cy="458.35" r="1.2" fill="#9c9c9c"/>
<circle cx="295.26" cy="461.46" r="1.2" fill="#9c9c9c"/>
<circle cx="310.46" cy="482.53" r="1.2" fill="#9c9c9c"/>
<circle cx="322.21" cy="490.82" r="1.2" fill="#9c9c9c"/>
<circle cx="337.23" cy="486.16" r="1.2" fill="#9c9c9c"/>
<circle cx="338.44" cy="490.82" r="1.2" fill="#9c9c9c"/>
<circle cx="327.39" cy="502.05" r="1.2" fill="#9c9c9c"/>
<circle cx="295.26" cy="504.64" r="1.2" fill="#9c9c9c"/>
<circle cx="284.55" cy="501.19" r="1.2" fill="#9c9c9c"/>
<circle cx="277.64" cy="504.64" r="1.2" fill="#9c9c9c"/>
<circle cx="270.73" cy="505.51" r="1.2" fill="#9c9c9c"/>
<circle cx="270.73" cy="510.69" r="1.2" fill="#9c9c9c"/>
<circle cx="274.18" cy="514.14" r="1.2" fill="#9c9c9c"/>
<circle cx="288.87" cy="509.83" r="1.2" fill="#9c9c9c"/>
<circle cx="293.19" cy="508.44" r="1.2" fill="#9c9c9c"/>
<circle cx="309.60" cy="504.64" r="1.2" fill="#9c9c9c"/>
<circle cx="311.84" cy="513.28" r="1.2" fill="#9c9c9c"/>
<circle cx="311.84" cy="515.87" r="1.2" fill="#9c9c9c"/>
<circle cx="296.64" cy="520.19" r="1.2" fill="#9c9c9c"/>
<circle cx="272.46" cy="524.51" r="1.2" fill="#9c9c9c"/>
<circle cx="265.55" cy="530.55" r="1.2" fill="#9c9c9c"/>
<circle cx="263.82" cy="527.96" r="1.2" fill="#9c9c9c"/>
<circle cx="271.59" cy="535.39" r="1.2" fill="#9c9c9c"/>
<circle cx="330.60" cy="448.90" r="1.2" fill="#9c9c9c"/>
<circle cx="353.90" cy="463.20" r="1.2" fill="#9c9c9c"/>
<circle cx="415.10" cy="463.80" r="1.2" fill="#9c9c9c"/>
<circle cx="337.60" cy="486.10" r="1.2" fill="#9c9c9c"/>
<circle cx="338.00" cy="491.10" r="1.2" fill="#9c9c9c"/>
<circle cx="398.80" cy="488.30" r="1.2" fill="#9c9c9c"/>
<circle cx="403.70" cy="491.30" r="1.2" fill="#9c9c9c"/>
<circle cx="428.10" cy="488.70" r="1.2" fill="#9c9c9c"/>
<circle cx="355.50" cy="499.30" r="1.2" fill="#9c9c9c"/>
<circle cx="376.80" cy="507.30" r="1.2" fill="#9c9c9c"/>
<circle cx="387.80" cy="506.70" r="1.2" fill="#9c9c9c"/>
<circle cx="301.48" cy="434.34" r="1.3" fill="#000"/>
<circle cx="312.53" cy="446.26" r="1.3" fill="#000"/>
<circle cx="311.67" cy="449.02" r="1.3" fill="#000"/>
<circle cx="295.26" cy="459.21" r="1.3" fill="#000"/>
<circle cx="303.20" cy="457.66" r="1.3" fill="#000"/>
<circle cx="303.55" cy="461.98" r="1.3" fill="#000"/>
<circle cx="305.62" cy="464.05" r="1.3" fill="#000"/>
<circle cx="290.94" cy="469.58" r="1.3" fill="#000"/>
<circle cx="322.21" cy="482.53" r="1.3" fill="#000"/>
<circle cx="289.73" cy="488.75" r="1.3" fill="#000"/>
<circle cx="295.26" cy="485.99" r="1.3" fill="#000"/>
<circle cx="295.26" cy="491.17" r="1.3" fill="#000"/>
<circle cx="299.75" cy="489.44" r="1.3" fill="#000"/>
<circle cx="299.75" cy="491.17" r="1.3" fill="#000"/>
<circle cx="311.32" cy="491.17" r="1.3" fill="#000"/>
<circle cx="300.96" cy="498.60" r="1.3" fill="#000"/>
<circle cx="291.11" cy="499.81" r="1.3" fill="#000"/>
<circle cx="291.11" cy="501.19" r="1.3" fill="#000"/>
<circle cx="288.87" cy="505.85" r="1.3" fill="#000"/>
<circle cx="299.23" cy="504.64" r="1.3" fill="#000"/>
<circle cx="300.96" cy="506.37" r="1.3" fill="#000"/>
<circle cx="295.26" cy="508.96" r="1.3" fill="#000"/>
<circle cx="307.00" cy="507.23" r="1.3" fill="#000"/>
<circle cx="311.84" cy="507.23" r="1.3" fill="#000"/>
<circle cx="307.00" cy="511.55" r="1.3" fill="#000"/>
<circle cx="284.55" cy="504.64" r="1.3" fill="#000"/>
<circle cx="281.96" cy="510.69" r="1.3" fill="#000"/>
<circle cx="281.96" cy="514.14" r="1.3" fill="#000"/>
<circle cx="280.23" cy="517.60" r="1.3" fill="#000"/>
<circle cx="275.91" cy="511.55" r="1.3" fill="#000"/>
<circle cx="287.14" cy="515.87" r="1.3" fill="#000"/>
<circle cx="291.46" cy="517.08" r="1.3" fill="#000"/>
<circle cx="275.91" cy="520.19" r="1.3" fill="#000"/>
<circle cx="272.46" cy="519.84" r="1.3" fill="#000"/>
<circle cx="275.05" cy="529.69" r="1.3" fill="#000"/>
<circle cx="278.50" cy="528.83" r="1.3" fill="#000"/>
<circle cx="271.59" cy="533.15" r="1.3" fill="#000"/>
<circle cx="268.14" cy="536.08" r="1.3" fill="#000"/>
<circle cx="284.55" cy="508.96" r="1.3" fill="#000"/>
<circle cx="281.96" cy="508.10" r="1.3" fill="#000"/>
<line x1="263.00" y1="510.20" x2="428.10" y2="469.80" stroke="#a6a6a6" stroke-width="1.2" stroke-linecap="butt"/>
<line x1="268.10" y1="531.90" x2="322.60" y2="458.30" stroke="#000" stroke-width="1.4" stroke-linecap="butt"/>
<text x="347.9" y="424.8" font-size="9.5" font-weight="bold"><tspan font-style="italic">r</tspan><tspan font-style="italic" font-size="6.2" dy="1.8">s</tspan><tspan dy="-1.8">=0.780, </tspan><tspan font-style="italic">P</tspan>&lt;0.001</text>
<text x="347.9" y="440.6" font-size="9.5" fill="#a6a6a6"><tspan font-style="italic">r</tspan><tspan font-style="italic" font-size="6.2" dy="1.8">s</tspan><tspan dy="-1.8">=0.657, </tspan><tspan font-style="italic">P</tspan>&lt;0.001</text>
<text x="217.50" y="415.60" font-size="21" text-anchor="start" font-weight="bold" fill="#000">G</text>
<line x1="486.00" y1="430.10" x2="486.00" y2="543.60" stroke="#000" stroke-width="1.3" stroke-linecap="butt"/>
<line x1="485.40" y1="543.00" x2="653.20" y2="543.00" stroke="#000" stroke-width="1.3" stroke-linecap="butt"/>
<line x1="481.50" y1="543.00" x2="486.00" y2="543.00" stroke="#000" stroke-width="1.2" stroke-linecap="butt"/>
<text x="480.50" y="546.20" font-size="9.2" text-anchor="end" font-weight="bold" fill="#000">0.0</text>
<line x1="481.50" y1="520.54" x2="486.00" y2="520.54" stroke="#000" stroke-width="1.2" stroke-linecap="butt"/>
<text x="480.50" y="523.74" font-size="9.2" text-anchor="end" font-weight="bold" fill="#000">0.5</text>
<line x1="481.50" y1="498.08" x2="486.00" y2="498.08" stroke="#000" stroke-width="1.2" stroke-linecap="butt"/>
<text x="480.50" y="501.28" font-size="9.2" text-anchor="end" font-weight="bold" fill="#000">1.0</text>
<line x1="481.50" y1="475.62" x2="486.00" y2="475.62" stroke="#000" stroke-width="1.2" stroke-linecap="butt"/>
<text x="480.50" y="478.82" font-size="9.2" text-anchor="end" font-weight="bold" fill="#000">1.5</text>
<line x1="481.50" y1="453.16" x2="486.00" y2="453.16" stroke="#000" stroke-width="1.2" stroke-linecap="butt"/>
<text x="480.50" y="456.36" font-size="9.2" text-anchor="end" font-weight="bold" fill="#000">2.0</text>
<line x1="481.50" y1="430.70" x2="486.00" y2="430.70" stroke="#000" stroke-width="1.2" stroke-linecap="butt"/>
<text x="480.50" y="433.90" font-size="9.2" text-anchor="end" font-weight="bold" fill="#000">2.5</text>
<line x1="486.00" y1="543.00" x2="486.00" y2="547.50" stroke="#000" stroke-width="1.2" stroke-linecap="butt"/>
<text x="486.00" y="557.50" font-size="9.2" text-anchor="middle" font-weight="bold" fill="#000">0</text>
<line x1="527.80" y1="543.00" x2="527.80" y2="547.50" stroke="#000" stroke-width="1.2" stroke-linecap="butt"/>
<text x="527.80" y="557.50" font-size="9.2" text-anchor="middle" font-weight="bold" fill="#000">2</text>
<line x1="569.60" y1="543.00" x2="569.60" y2="547.50" stroke="#000" stroke-width="1.2" stroke-linecap="butt"/>
<text x="569.60" y="557.50" font-size="9.2" text-anchor="middle" font-weight="bold" fill="#000">4</text>
<line x1="611.40" y1="543.00" x2="611.40" y2="547.50" stroke="#000" stroke-width="1.2" stroke-linecap="butt"/>
<text x="611.40" y="557.50" font-size="9.2" text-anchor="middle" font-weight="bold" fill="#000">6</text>
<line x1="653.20" y1="543.00" x2="653.20" y2="547.50" stroke="#000" stroke-width="1.2" stroke-linecap="butt"/>
<text x="653.20" y="557.50" font-size="9.2" text-anchor="middle" font-weight="bold" fill="#000">8</text>
<text x="568.80" y="571.20" font-size="9.2" text-anchor="middle" font-weight="bold" fill="#000">Relative expression of Piezo1 or MDFIC</text>
<text x="463.20" y="487.50" font-size="9.45" text-anchor="middle" font-weight="bold" fill="#000" transform="rotate(-90 463.2 487.5)">Relative expression of ATG12</text>
<circle cx="532.35" cy="452.82" r="1.2" fill="#9c9c9c"/>
<circle cx="552.73" cy="459.73" r="1.2" fill="#9c9c9c"/>
<circle cx="513.87" cy="465.78" r="1.2" fill="#9c9c9c"/>
<circle cx="518.53" cy="468.02" r="1.2" fill="#9c9c9c"/>
<circle cx="494.35" cy="468.02" r="1.2" fill="#9c9c9c"/>
<circle cx="491.41" cy="470.96" r="1.2" fill="#9c9c9c"/>
<circle cx="504.71" cy="472.17" r="1.2" fill="#9c9c9c"/>
<circle cx="537.53" cy="475.62" r="1.2" fill="#9c9c9c"/>
<circle cx="538.05" cy="480.46" r="1.2" fill="#9c9c9c"/>
<circle cx="544.96" cy="479.60" r="1.2" fill="#9c9c9c"/>
<circle cx="559.64" cy="481.32" r="1.2" fill="#9c9c9c"/>
<circle cx="559.64" cy="486.51" r="1.2" fill="#9c9c9c"/>
<circle cx="488.82" cy="485.64" r="1.2" fill="#9c9c9c"/>
<circle cx="489.34" cy="492.90" r="1.2" fill="#9c9c9c"/>
<circle cx="501.77" cy="487.37" r="1.2" fill="#9c9c9c"/>
<circle cx="524.23" cy="485.30" r="1.2" fill="#9c9c9c"/>
<circle cx="532.00" cy="484.26" r="1.2" fill="#9c9c9c"/>
<circle cx="500.05" cy="496.87" r="1.2" fill="#9c9c9c"/>
<circle cx="505.23" cy="496.01" r="1.2" fill="#9c9c9c"/>
<circle cx="518.19" cy="496.87" r="1.2" fill="#9c9c9c"/>
<circle cx="535.46" cy="496.01" r="1.2" fill="#9c9c9c"/>
<circle cx="549.28" cy="493.42" r="1.2" fill="#9c9c9c"/>
<circle cx="493.66" cy="509.83" r="1.2" fill="#9c9c9c"/>
<circle cx="499.18" cy="509.83" r="1.2" fill="#9c9c9c"/>
<circle cx="506.09" cy="509.83" r="1.2" fill="#9c9c9c"/>
<circle cx="521.64" cy="509.83" r="1.2" fill="#9c9c9c"/>
<circle cx="516.46" cy="513.28" r="1.2" fill="#9c9c9c"/>
<circle cx="534.60" cy="513.28" r="1.2" fill="#9c9c9c"/>
<circle cx="494.00" cy="513.28" r="1.2" fill="#9c9c9c"/>
<circle cx="502.64" cy="516.74" r="1.2" fill="#9c9c9c"/>
<circle cx="519.91" cy="518.81" r="1.2" fill="#9c9c9c"/>
<circle cx="532.00" cy="519.84" r="1.2" fill="#9c9c9c"/>
<circle cx="534.60" cy="518.46" r="1.2" fill="#9c9c9c"/>
<circle cx="487.96" cy="525.37" r="1.2" fill="#9c9c9c"/>
<circle cx="488.82" cy="527.96" r="1.2" fill="#9c9c9c"/>
<circle cx="575.50" cy="459.80" r="1.2" fill="#9c9c9c"/>
<circle cx="560.00" cy="481.30" r="1.2" fill="#9c9c9c"/>
<circle cx="560.40" cy="486.60" r="1.2" fill="#9c9c9c"/>
<circle cx="577.50" cy="493.60" r="1.2" fill="#9c9c9c"/>
<circle cx="608.40" cy="495.20" r="1.2" fill="#9c9c9c"/>
<circle cx="619.10" cy="487.60" r="1.2" fill="#9c9c9c"/>
<circle cx="623.70" cy="487.20" r="1.2" fill="#9c9c9c"/>
<circle cx="634.60" cy="476.10" r="1.2" fill="#9c9c9c"/>
<circle cx="647.60" cy="486.20" r="1.2" fill="#9c9c9c"/>
<circle cx="597.80" cy="511.50" r="1.2" fill="#9c9c9c"/>
<circle cx="525.10" cy="452.82" r="1.3" fill="#000"/>
<circle cx="525.96" cy="459.73" r="1.3" fill="#000"/>
<circle cx="534.60" cy="459.73" r="1.3" fill="#000"/>
<circle cx="535.80" cy="465.78" r="1.3" fill="#000"/>
<circle cx="526.82" cy="468.02" r="1.3" fill="#000"/>
<circle cx="526.48" cy="470.96" r="1.3" fill="#000"/>
<circle cx="513.00" cy="468.37" r="1.3" fill="#000"/>
<circle cx="514.73" cy="472.17" r="1.3" fill="#000"/>
<circle cx="500.05" cy="470.96" r="1.3" fill="#000"/>
<circle cx="544.96" cy="473.90" r="1.3" fill="#000"/>
<circle cx="528.55" cy="476.14" r="1.3" fill="#000"/>
<circle cx="523.02" cy="479.60" r="1.3" fill="#000"/>
<circle cx="518.19" cy="481.32" r="1.3" fill="#000"/>
<circle cx="519.05" cy="480.80" r="1.3" fill="#000"/>
<circle cx="516.46" cy="485.30" r="1.3" fill="#000"/>
<circle cx="509.55" cy="487.02" r="1.3" fill="#000"/>
<circle cx="518.19" cy="487.02" r="1.3" fill="#000"/>
<circle cx="533.73" cy="486.51" r="1.3" fill="#000"/>
<circle cx="524.23" cy="484.78" r="1.3" fill="#000"/>
<circle cx="500.05" cy="485.99" r="1.3" fill="#000"/>
<circle cx="495.73" cy="492.55" r="1.3" fill="#000"/>
<circle cx="514.39" cy="494.28" r="1.3" fill="#000"/>
<circle cx="523.02" cy="493.93" r="1.3" fill="#000"/>
<circle cx="529.93" cy="496.01" r="1.3" fill="#000"/>
<circle cx="530.62" cy="498.94" r="1.3" fill="#000"/>
<circle cx="506.09" cy="508.96" r="1.3" fill="#000"/>
<circle cx="515.08" cy="508.96" r="1.3" fill="#000"/>
<circle cx="512.14" cy="511.55" r="1.3" fill="#000"/>
<circle cx="508.17" cy="514.14" r="1.3" fill="#000"/>
<circle cx="503.50" cy="511.55" r="1.3" fill="#000"/>
<circle cx="500.05" cy="518.81" r="1.3" fill="#000"/>
<circle cx="510.41" cy="518.81" r="1.3" fill="#000"/>
<circle cx="505.23" cy="519.84" r="1.3" fill="#000"/>
<circle cx="515.08" cy="521.05" r="1.3" fill="#000"/>
<circle cx="502.64" cy="524.51" r="1.3" fill="#000"/>
<circle cx="498.32" cy="525.72" r="1.3" fill="#000"/>
<circle cx="499.18" cy="527.96" r="1.3" fill="#000"/>
<circle cx="492.27" cy="533.49" r="1.3" fill="#000"/>
<circle cx="493.66" cy="533.66" r="1.3" fill="#000"/>
<line x1="488.00" y1="500.30" x2="647.60" y2="477.70" stroke="#a6a6a6" stroke-width="1.2" stroke-linecap="butt"/>
<line x1="492.30" y1="517.60" x2="545.00" y2="464.00" stroke="#000" stroke-width="1.4" stroke-linecap="butt"/>
<text x="569.9" y="429.2" font-size="9.5" font-weight="bold"><tspan font-style="italic">r</tspan><tspan font-style="italic" font-size="6.2" dy="1.8">s</tspan><tspan dy="-1.8">=0.605, </tspan><tspan font-style="italic">P</tspan>&lt;0.001</text>
<text x="569.9" y="445.0" font-size="9.5" fill="#a6a6a6"><tspan font-style="italic">r</tspan><tspan font-style="italic" font-size="6.2" dy="1.8">s</tspan><tspan dy="-1.8">=0.340, </tspan><tspan font-style="italic">P</tspan>=0.018</text>
<text x="441.50" y="416.80" font-size="21" text-anchor="start" font-weight="bold" fill="#000">H</text>
<line x1="128.60" y1="605.70" x2="128.60" y2="722.70" stroke="#000" stroke-width="1.3" stroke-linecap="butt"/>
<line x1="128.00" y1="722.10" x2="301.80" y2="722.10" stroke="#000" stroke-width="1.3" stroke-linecap="butt"/>
<line x1="124.10" y1="722.10" x2="128.60" y2="722.10" stroke="#000" stroke-width="1.2" stroke-linecap="butt"/>
<text x="123.10" y="725.30" font-size="9.2" text-anchor="end" font-weight="bold" fill="#000">0</text>
<line x1="124.10" y1="683.50" x2="128.60" y2="683.50" stroke="#000" stroke-width="1.2" stroke-linecap="butt"/>
<text x="123.10" y="686.70" font-size="9.2" text-anchor="end" font-weight="bold" fill="#000">1</text>
<line x1="124.10" y1="644.90" x2="128.60" y2="644.90" stroke="#000" stroke-width="1.2" stroke-linecap="butt"/>
<text x="123.10" y="648.10" font-size="9.2" text-anchor="end" font-weight="bold" fill="#000">2</text>
<line x1="124.10" y1="606.30" x2="128.60" y2="606.30" stroke="#000" stroke-width="1.2" stroke-linecap="butt"/>
<text x="123.10" y="609.50" font-size="9.2" text-anchor="end" font-weight="bold" fill="#000">3</text>
<line x1="128.60" y1="722.10" x2="128.60" y2="726.60" stroke="#000" stroke-width="1.2" stroke-linecap="butt"/>
<text x="128.60" y="736.60" font-size="9.2" text-anchor="middle" font-weight="bold" fill="#000">0</text>
<line x1="171.90" y1="722.10" x2="171.90" y2="726.60" stroke="#000" stroke-width="1.2" stroke-linecap="butt"/>
<text x="171.90" y="736.60" font-size="9.2" text-anchor="middle" font-weight="bold" fill="#000">2</text>
<line x1="215.20" y1="722.10" x2="215.20" y2="726.60" stroke="#000" stroke-width="1.2" stroke-linecap="butt"/>
<text x="215.20" y="736.60" font-size="9.2" text-anchor="middle" font-weight="bold" fill="#000">4</text>
<line x1="258.50" y1="722.10" x2="258.50" y2="726.60" stroke="#000" stroke-width="1.2" stroke-linecap="butt"/>
<text x="258.50" y="736.60" font-size="9.2" text-anchor="middle" font-weight="bold" fill="#000">6</text>
<line x1="301.80" y1="722.10" x2="301.80" y2="726.60" stroke="#000" stroke-width="1.2" stroke-linecap="butt"/>
<text x="301.80" y="736.60" font-size="9.2" text-anchor="middle" font-weight="bold" fill="#000">8</text>
<text x="215.70" y="749.70" font-size="9.5" text-anchor="middle" font-weight="bold" fill="#000">Relative expression of Piezo1 or MDFIC</text>
<text x="112.90" y="663.50" font-size="9.45" text-anchor="middle" font-weight="bold" fill="#000" transform="rotate(-90 112.9 663.5)">Relative expression of Beclin1</text>
<circle cx="176.46" cy="616.11" r="1.2" fill="#9c9c9c"/>
<circle cx="197.56" cy="626.08" r="1.2" fill="#9c9c9c"/>
<circle cx="177.79" cy="638.21" r="1.2" fill="#9c9c9c"/>
<circle cx="183.11" cy="644.85" r="1.2" fill="#9c9c9c"/>
<circle cx="162.34" cy="645.68" r="1.2" fill="#9c9c9c"/>
<circle cx="157.03" cy="649.50" r="1.2" fill="#9c9c9c"/>
<circle cx="136.59" cy="664.29" r="1.2" fill="#9c9c9c"/>
<circle cx="147.39" cy="661.46" r="1.2" fill="#9c9c9c"/>
<circle cx="154.87" cy="665.61" r="1.2" fill="#9c9c9c"/>
<circle cx="189.42" cy="662.29" r="1.2" fill="#9c9c9c"/>
<circle cx="205.20" cy="662.29" r="1.2" fill="#9c9c9c"/>
<circle cx="194.40" cy="667.28" r="1.2" fill="#9c9c9c"/>
<circle cx="204.70" cy="665.61" r="1.2" fill="#9c9c9c"/>
<circle cx="144.90" cy="672.59" r="1.2" fill="#9c9c9c"/>
<circle cx="171.15" cy="673.92" r="1.2" fill="#9c9c9c"/>
<circle cx="177.79" cy="669.77" r="1.2" fill="#9c9c9c"/>
<circle cx="176.46" cy="670.60" r="1.2" fill="#9c9c9c"/>
<circle cx="179.45" cy="681.06" r="1.2" fill="#9c9c9c"/>
<circle cx="151.88" cy="683.89" r="1.2" fill="#9c9c9c"/>
<circle cx="158.19" cy="688.04" r="1.2" fill="#9c9c9c"/>
<circle cx="179.78" cy="688.04" r="1.2" fill="#9c9c9c"/>
<circle cx="155.70" cy="691.36" r="1.2" fill="#9c9c9c"/>
<circle cx="160.68" cy="696.35" r="1.2" fill="#9c9c9c"/>
<circle cx="140.75" cy="697.67" r="1.2" fill="#9c9c9c"/>
<circle cx="144.07" cy="698.01" r="1.2" fill="#9c9c9c"/>
<circle cx="164.00" cy="701.66" r="1.2" fill="#9c9c9c"/>
<circle cx="176.46" cy="695.51" r="1.2" fill="#9c9c9c"/>
<circle cx="179.78" cy="694.68" r="1.2" fill="#9c9c9c"/>
<circle cx="131.61" cy="708.80" r="1.2" fill="#9c9c9c"/>
<circle cx="133.27" cy="709.63" r="1.2" fill="#9c9c9c"/>
<circle cx="130.78" cy="717.11" r="1.2" fill="#9c9c9c"/>
<circle cx="136.59" cy="712.13" r="1.2" fill="#9c9c9c"/>
<circle cx="134.60" cy="707.97" r="1.2" fill="#9c9c9c"/>
<circle cx="221.00" cy="634.40" r="1.2" fill="#9c9c9c"/>
<circle cx="204.80" cy="662.10" r="1.2" fill="#9c9c9c"/>
<circle cx="204.80" cy="665.40" r="1.2" fill="#9c9c9c"/>
<circle cx="266.10" cy="653.90" r="1.2" fill="#9c9c9c"/>
<circle cx="270.80" cy="656.70" r="1.2" fill="#9c9c9c"/>
<circle cx="282.30" cy="650.20" r="1.2" fill="#9c9c9c"/>
<circle cx="295.30" cy="652.40" r="1.2" fill="#9c9c9c"/>
<circle cx="223.20" cy="675.10" r="1.2" fill="#9c9c9c"/>
<circle cx="244.40" cy="690.10" r="1.2" fill="#9c9c9c"/>
<circle cx="255.20" cy="688.50" r="1.2" fill="#9c9c9c"/>
<circle cx="168.49" cy="616.11" r="1.3" fill="#000"/>
<circle cx="178.62" cy="626.08" r="1.3" fill="#000"/>
<circle cx="169.82" cy="634.05" r="1.3" fill="#000"/>
<circle cx="170.15" cy="644.52" r="1.3" fill="#000"/>
<circle cx="170.65" cy="645.68" r="1.3" fill="#000"/>
<circle cx="172.64" cy="649.83" r="1.3" fill="#000"/>
<circle cx="179.45" cy="649.50" r="1.3" fill="#000"/>
<circle cx="156.53" cy="652.82" r="1.3" fill="#000"/>
<circle cx="166.16" cy="653.99" r="1.3" fill="#000"/>
<circle cx="162.01" cy="656.81" r="1.3" fill="#000"/>
<circle cx="158.19" cy="661.46" r="1.3" fill="#000"/>
<circle cx="166.99" cy="662.29" r="1.3" fill="#000"/>
<circle cx="178.12" cy="662.29" r="1.3" fill="#000"/>
<circle cx="142.91" cy="664.29" r="1.3" fill="#000"/>
<circle cx="174.30" cy="665.61" r="1.3" fill="#000"/>
<circle cx="162.34" cy="665.61" r="1.3" fill="#000"/>
<circle cx="151.21" cy="669.27" r="1.3" fill="#000"/>
<circle cx="167.82" cy="670.10" r="1.3" fill="#000"/>
<circle cx="166.16" cy="672.76" r="1.3" fill="#000"/>
<circle cx="159.02" cy="675.08" r="1.3" fill="#000"/>
<circle cx="159.85" cy="674.75" r="1.3" fill="#000"/>
<circle cx="173.97" cy="681.06" r="1.3" fill="#000"/>
<circle cx="158.19" cy="683.89" r="1.3" fill="#000"/>
<circle cx="147.06" cy="688.54" r="1.3" fill="#000"/>
<circle cx="167.82" cy="688.54" r="1.3" fill="#000"/>
<circle cx="156.03" cy="689.70" r="1.3" fill="#000"/>
<circle cx="158.52" cy="691.69" r="1.3" fill="#000"/>
<circle cx="153.70" cy="694.35" r="1.3" fill="#000"/>
<circle cx="147.39" cy="696.35" r="1.3" fill="#000"/>
<circle cx="149.05" cy="696.68" r="1.3" fill="#000"/>
<circle cx="139.92" cy="698.01" r="1.3" fill="#000"/>
<circle cx="162.34" cy="700.83" r="1.3" fill="#000"/>
<circle cx="142.91" cy="701.66" r="1.3" fill="#000"/>
<circle cx="145.40" cy="708.80" r="1.3" fill="#000"/>
<circle cx="141.58" cy="707.97" r="1.3" fill="#000"/>
<circle cx="140.75" cy="709.63" r="1.3" fill="#000"/>
<circle cx="156.53" cy="711.30" r="1.3" fill="#000"/>
<circle cx="135.43" cy="712.62" r="1.3" fill="#000"/>
<circle cx="142.91" cy="716.78" r="1.3" fill="#000"/>
<circle cx="189.42" cy="638.54" r="1.3" fill="#000"/>
<line x1="130.80" y1="691.40" x2="295.30" y2="640.90" stroke="#a6a6a6" stroke-width="1.2" stroke-linecap="butt"/>
<line x1="134.60" y1="713.00" x2="189.80" y2="634.40" stroke="#000" stroke-width="1.4" stroke-linecap="butt"/>
<text x="215.2" y="604.0" font-size="9.5" font-weight="bold"><tspan font-style="italic">r</tspan><tspan font-style="italic" font-size="6.2" dy="1.8">s</tspan><tspan dy="-1.8">=0.747, </tspan><tspan font-style="italic">P</tspan>&lt;0.001</text>
<text x="215.2" y="619.8" font-size="9.5" fill="#a6a6a6"><tspan font-style="italic">r</tspan><tspan font-style="italic" font-size="6.2" dy="1.8">s</tspan><tspan dy="-1.8">=0.673, </tspan><tspan font-style="italic">P</tspan>=0.018</text>
<text x="85.30" y="602.70" font-size="21" text-anchor="start" font-weight="bold" fill="#000">I</text>
<line x1="385.30" y1="610.60" x2="385.30" y2="723.20" stroke="#000" stroke-width="1.3" stroke-linecap="butt"/>
<line x1="384.70" y1="722.60" x2="552.10" y2="722.60" stroke="#000" stroke-width="1.3" stroke-linecap="butt"/>
<line x1="380.80" y1="722.60" x2="385.30" y2="722.60" stroke="#000" stroke-width="1.2" stroke-linecap="butt"/>
<text x="379.80" y="725.80" font-size="9.2" text-anchor="end" font-weight="bold" fill="#000">0.0</text>
<line x1="380.80" y1="694.75" x2="385.30" y2="694.75" stroke="#000" stroke-width="1.2" stroke-linecap="butt"/>
<text x="379.80" y="697.95" font-size="9.2" text-anchor="end" font-weight="bold" fill="#000">0.5</text>
<line x1="380.80" y1="666.90" x2="385.30" y2="666.90" stroke="#000" stroke-width="1.2" stroke-linecap="butt"/>
<text x="379.80" y="670.10" font-size="9.2" text-anchor="end" font-weight="bold" fill="#000">1.0</text>
<line x1="380.80" y1="639.05" x2="385.30" y2="639.05" stroke="#000" stroke-width="1.2" stroke-linecap="butt"/>
<text x="379.80" y="642.25" font-size="9.2" text-anchor="end" font-weight="bold" fill="#000">1.5</text>
<line x1="380.80" y1="611.20" x2="385.30" y2="611.20" stroke="#000" stroke-width="1.2" stroke-linecap="butt"/>
<text x="379.80" y="614.40" font-size="9.2" text-anchor="end" font-weight="bold" fill="#000">2.0</text>
<line x1="385.30" y1="722.60" x2="385.30" y2="727.10" stroke="#000" stroke-width="1.2" stroke-linecap="butt"/>
<text x="385.30" y="737.10" font-size="9.2" text-anchor="middle" font-weight="bold" fill="#000">0</text>
<line x1="427.00" y1="722.60" x2="427.00" y2="727.10" stroke="#000" stroke-width="1.2" stroke-linecap="butt"/>
<text x="427.00" y="737.10" font-size="9.2" text-anchor="middle" font-weight="bold" fill="#000">2</text>
<line x1="468.70" y1="722.60" x2="468.70" y2="727.10" stroke="#000" stroke-width="1.2" stroke-linecap="butt"/>
<text x="468.70" y="737.10" font-size="9.2" text-anchor="middle" font-weight="bold" fill="#000">4</text>
<line x1="510.40" y1="722.60" x2="510.40" y2="727.10" stroke="#000" stroke-width="1.2" stroke-linecap="butt"/>
<text x="510.40" y="737.10" font-size="9.2" text-anchor="middle" font-weight="bold" fill="#000">6</text>
<line x1="552.10" y1="722.60" x2="552.10" y2="727.10" stroke="#000" stroke-width="1.2" stroke-linecap="butt"/>
<text x="552.10" y="737.10" font-size="9.2" text-anchor="middle" font-weight="bold" fill="#000">8</text>
<text x="468.90" y="750.00" font-size="9.15" text-anchor="middle" font-weight="bold" fill="#000">Relative expression of Piezo1 or MDFIC</text>
<text x="363.40" y="666.00" font-size="9.1" text-anchor="middle" font-weight="bold" fill="#000" transform="rotate(-90 363.4 666.0)">Relative expression of SQSTM1/P62</text>
<circle cx="404.19" cy="620.20" r="1.2" fill="#9c9c9c"/>
<circle cx="434.24" cy="630.56" r="1.2" fill="#9c9c9c"/>
<circle cx="459.28" cy="653.19" r="1.2" fill="#9c9c9c"/>
<circle cx="401.60" cy="655.26" r="1.2" fill="#9c9c9c"/>
<circle cx="390.72" cy="661.65" r="1.2" fill="#9c9c9c"/>
<circle cx="430.78" cy="661.82" r="1.2" fill="#9c9c9c"/>
<circle cx="393.31" cy="666.48" r="1.2" fill="#9c9c9c"/>
<circle cx="444.25" cy="669.94" r="1.2" fill="#9c9c9c"/>
<circle cx="388.13" cy="674.60" r="1.2" fill="#9c9c9c"/>
<circle cx="401.08" cy="674.60" r="1.2" fill="#9c9c9c"/>
<circle cx="419.21" cy="679.78" r="1.2" fill="#9c9c9c"/>
<circle cx="433.37" cy="680.82" r="1.2" fill="#9c9c9c"/>
<circle cx="393.31" cy="685.48" r="1.2" fill="#9c9c9c"/>
<circle cx="387.27" cy="685.48" r="1.2" fill="#9c9c9c"/>
<circle cx="452.02" cy="686.00" r="1.2" fill="#9c9c9c"/>
<circle cx="403.67" cy="690.14" r="1.2" fill="#9c9c9c"/>
<circle cx="394.18" cy="690.66" r="1.2" fill="#9c9c9c"/>
<circle cx="388.99" cy="690.66" r="1.2" fill="#9c9c9c"/>
<circle cx="433.89" cy="686.34" r="1.2" fill="#9c9c9c"/>
<circle cx="388.99" cy="694.11" r="1.2" fill="#9c9c9c"/>
<circle cx="411.44" cy="694.11" r="1.2" fill="#9c9c9c"/>
<circle cx="432.17" cy="694.63" r="1.2" fill="#9c9c9c"/>
<circle cx="458.93" cy="696.70" r="1.2" fill="#9c9c9c"/>
<circle cx="439.07" cy="695.84" r="1.2" fill="#9c9c9c"/>
<circle cx="434.76" cy="697.22" r="1.2" fill="#9c9c9c"/>
<circle cx="437.35" cy="699.81" r="1.2" fill="#9c9c9c"/>
<circle cx="434.24" cy="700.67" r="1.2" fill="#9c9c9c"/>
<circle cx="474.47" cy="698.77" r="1.2" fill="#9c9c9c"/>
<circle cx="411.10" cy="698.08" r="1.2" fill="#9c9c9c"/>
<circle cx="425.78" cy="704.13" r="1.2" fill="#9c9c9c"/>
<circle cx="407.13" cy="708.79" r="1.2" fill="#9c9c9c"/>
<circle cx="448.57" cy="722.60" r="1.2" fill="#9c9c9c"/>
<circle cx="474.10" cy="699.10" r="1.2" fill="#9c9c9c"/>
<circle cx="476.40" cy="694.80" r="1.2" fill="#9c9c9c"/>
<circle cx="496.10" cy="703.00" r="1.2" fill="#9c9c9c"/>
<circle cx="507.00" cy="704.00" r="1.2" fill="#9c9c9c"/>
<circle cx="517.50" cy="700.40" r="1.2" fill="#9c9c9c"/>
<circle cx="522.40" cy="684.00" r="1.2" fill="#9c9c9c"/>
<circle cx="546.10" cy="698.80" r="1.2" fill="#9c9c9c"/>
<circle cx="532.90" cy="722.10" r="1.2" fill="#9c9c9c"/>
<circle cx="413.69" cy="620.20" r="1.3" fill="#000"/>
<circle cx="429.23" cy="630.56" r="1.3" fill="#000"/>
<circle cx="433.37" cy="653.19" r="1.3" fill="#000"/>
<circle cx="403.33" cy="655.26" r="1.3" fill="#000"/>
<circle cx="399.01" cy="661.65" r="1.3" fill="#000"/>
<circle cx="405.05" cy="662.17" r="1.3" fill="#000"/>
<circle cx="391.93" cy="666.48" r="1.3" fill="#000"/>
<circle cx="422.15" cy="669.94" r="1.3" fill="#000"/>
<circle cx="417.49" cy="673.39" r="1.3" fill="#000"/>
<circle cx="421.46" cy="674.60" r="1.3" fill="#000"/>
<circle cx="399.01" cy="674.60" r="1.3" fill="#000"/>
<circle cx="397.63" cy="679.09" r="1.3" fill="#000"/>
<circle cx="398.49" cy="679.78" r="1.3" fill="#000"/>
<circle cx="407.13" cy="680.82" r="1.3" fill="#000"/>
<circle cx="425.60" cy="682.89" r="1.3" fill="#000"/>
<circle cx="401.95" cy="685.48" r="1.3" fill="#000"/>
<circle cx="395.90" cy="685.48" r="1.3" fill="#000"/>
<circle cx="411.44" cy="690.66" r="1.3" fill="#000"/>
<circle cx="398.49" cy="690.66" r="1.3" fill="#000"/>
<circle cx="400.22" cy="690.31" r="1.3" fill="#000"/>
<circle cx="422.67" cy="694.11" r="1.3" fill="#000"/>
<circle cx="395.04" cy="694.11" r="1.3" fill="#000"/>
<circle cx="430.44" cy="694.63" r="1.3" fill="#000"/>
<circle cx="434.24" cy="693.59" r="1.3" fill="#000"/>
<circle cx="425.78" cy="695.84" r="1.3" fill="#000"/>
<circle cx="403.15" cy="697.05" r="1.3" fill="#000"/>
<circle cx="409.72" cy="696.36" r="1.3" fill="#000"/>
<circle cx="413.17" cy="697.57" r="1.3" fill="#000"/>
<circle cx="417.49" cy="697.05" r="1.3" fill="#000"/>
<circle cx="416.62" cy="699.29" r="1.3" fill="#000"/>
<circle cx="413.17" cy="699.81" r="1.3" fill="#000"/>
<circle cx="409.72" cy="700.16" r="1.3" fill="#000"/>
<circle cx="425.26" cy="698.77" r="1.3" fill="#000"/>
<circle cx="421.46" cy="699.81" r="1.3" fill="#000"/>
<circle cx="408.34" cy="703.09" r="1.3" fill="#000"/>
<circle cx="411.44" cy="702.75" r="1.3" fill="#000"/>
<circle cx="415.76" cy="703.95" r="1.3" fill="#000"/>
<circle cx="423.53" cy="703.95" r="1.3" fill="#000"/>
<circle cx="414.03" cy="708.79" r="1.3" fill="#000"/>
<circle cx="421.80" cy="722.09" r="1.3" fill="#000"/>
<circle cx="443.91" cy="693.25" r="1.3" fill="#000"/>
<circle cx="398.49" cy="679.43" r="1.3" fill="#000"/>
<line x1="387.30" y1="679.10" x2="546.10" y2="704.70" stroke="#a6a6a6" stroke-width="1.2" stroke-linecap="butt"/>
<line x1="392.10" y1="681.50" x2="443.90" y2="692.90" stroke="#000" stroke-width="1.4" stroke-linecap="butt"/>
<text x="467.0" y="610.0" font-size="9.5" font-weight="bold"><tspan font-style="italic">r</tspan><tspan font-style="italic" font-size="6.2" dy="1.8">s</tspan><tspan dy="-1.8">=-0.195, </tspan><tspan font-style="italic">P</tspan>=0.185</text>
<text x="467.0" y="625.8" font-size="9.5" fill="#a6a6a6"><tspan font-style="italic">r</tspan><tspan font-style="italic" font-size="6.2" dy="1.8">s</tspan><tspan dy="-1.8">=-0.429, </tspan><tspan font-style="italic">P</tspan>=0.002</text>
<text x="334.30" y="602.80" font-size="21" text-anchor="start" font-weight="bold" fill="#000">J</text>
<line x1="564.90" y1="595.40" x2="578.90" y2="595.40" stroke="#000" stroke-width="1.5" stroke-linecap="butt"/>
<circle cx="571.70" cy="595.40" r="2.9" fill="#000"/>
<text x="586.50" y="599.60" font-size="11.8" text-anchor="start" font-weight="bold" fill="#000">Piezo1</text>
<line x1="564.90" y1="612.40" x2="578.90" y2="612.40" stroke="#a6a6a6" stroke-width="1.5" stroke-linecap="butt"/>
<circle cx="571.70" cy="612.40" r="2.9" fill="#a6a6a6"/>
<text x="586.50" y="616.80" font-size="11.8" text-anchor="start" font-weight="bold" fill="#a3a3a8">MDFIC</text>
</svg></body></html>
